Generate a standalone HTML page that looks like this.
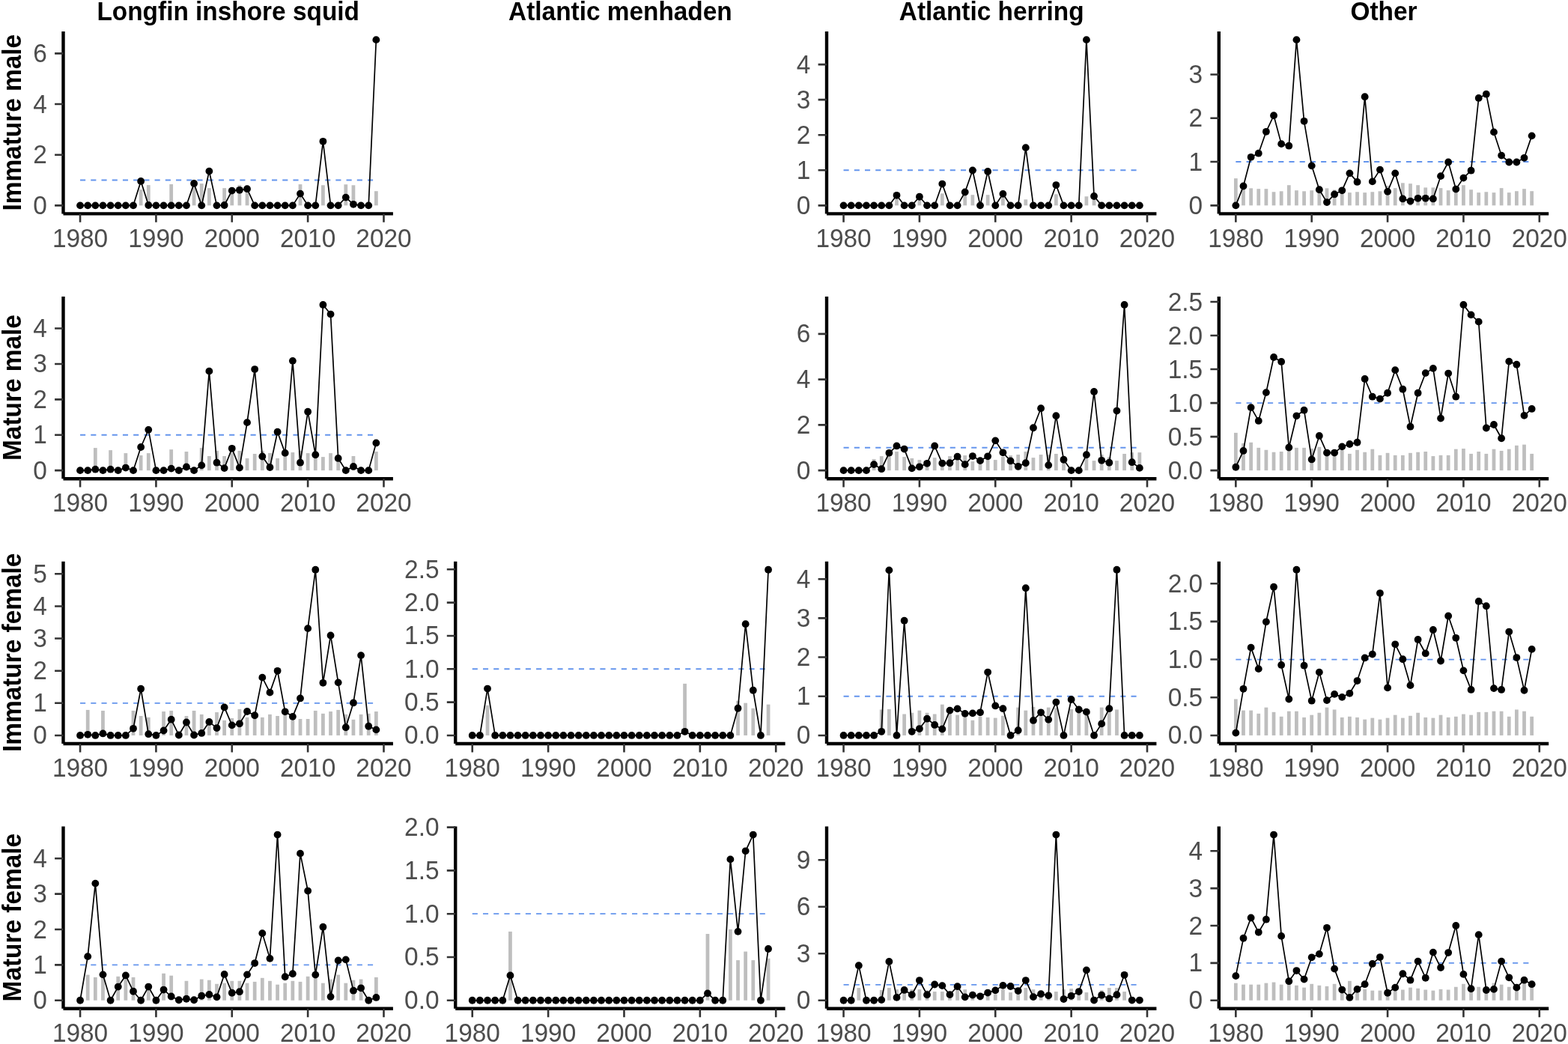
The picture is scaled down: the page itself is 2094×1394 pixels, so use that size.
<!DOCTYPE html>
<html><head><meta charset="utf-8"><title>Plot</title>
<style>
html,body{margin:0;padding:0;background:#fff;}
svg{display:block;}
text{font-family:"Liberation Sans",Arial,sans-serif;}
.tl{font-size:33.4px;fill:#4d4d4d;}
.st{font-size:33.4px;font-weight:bold;fill:#000;}
</style></head><body>
<svg width="2094" height="1394" viewBox="0 0 2094 1394">
<rect width="2094" height="1394" fill="#fff"/>
<text class="st" transform="translate(304.7 27.2) scale(1 1.03)" text-anchor="middle">Longfin inshore squid</text>
<text class="st" transform="translate(828.4 27.2) scale(1 1.03)" text-anchor="middle">Atlantic menhaden</text>
<text class="st" transform="translate(1324.2 27.2) scale(1 1.03)" text-anchor="middle">Atlantic herring</text>
<text class="st" transform="translate(1848 27.2) scale(1 1.03)" text-anchor="middle">Other</text>
<text class="st" transform="translate(27.6 163.75) rotate(-90) scale(1 1.03)" text-anchor="middle">Immature male</text>
<text class="st" transform="translate(27.6 517.55) rotate(-90) scale(1 1.03)" text-anchor="middle">Mature male</text>
<text class="st" transform="translate(27.6 871.35) rotate(-90) scale(1 1.03)" text-anchor="middle">Immature female</text>
<text class="st" transform="translate(27.6 1225.15) rotate(-90) scale(1 1.03)" text-anchor="middle">Mature female</text>
<g>
<g fill="#bebebe"><rect x="185.76" y="253.14" width="4.75" height="21.2"/><rect x="195.9" y="247.12" width="4.75" height="27.22"/><rect x="226.31" y="246.03" width="4.75" height="28.31"/><rect x="256.71" y="248.98" width="4.75" height="25.36"/><rect x="266.85" y="245.12" width="4.75" height="29.22"/><rect x="276.99" y="251.14" width="4.75" height="23.2"/><rect x="297.26" y="251.14" width="4.75" height="23.2"/><rect x="307.39" y="257.43" width="4.75" height="16.91"/><rect x="317.53" y="247.12" width="4.75" height="27.22"/><rect x="327.67" y="255.74" width="4.75" height="18.6"/><rect x="398.62" y="246.13" width="4.75" height="28.21"/><rect x="429.03" y="247.28" width="4.75" height="27.06"/><rect x="459.44" y="246.27" width="4.75" height="28.07"/><rect x="469.57" y="247.28" width="4.75" height="27.06"/><rect x="499.98" y="255.23" width="4.75" height="19.11"/></g>
<line x1="107.05" y1="240.52" x2="502.35" y2="240.52" stroke="#6495ed" stroke-width="1.85" stroke-dasharray="7.11 7.11"/>
<polyline points="107.05,274.34 117.19,274.34 127.32,274.34 137.46,274.34 147.59,274.34 157.73,274.34 167.87,274.34 178,274.34 188.14,241.94 198.27,274 208.41,274.34 218.55,274.34 228.68,274.34 238.82,274.34 248.95,274.34 259.09,244.92 269.23,274.34 279.36,228.62 289.5,274.34 299.63,274 309.77,254.62 319.91,253.81 330.04,252.22 340.18,274.34 350.31,274.34 360.45,274.34 370.59,274.34 380.72,274.34 390.86,274.34 400.99,258.61 411.13,274.34 421.27,274.34 431.4,188.78 441.54,274.34 451.67,274.34 461.81,263.62 471.95,272.82 482.08,274.34 492.22,274.34 502.35,53.16" fill="none" stroke="#000" stroke-width="1.7" stroke-linejoin="round"/>
<g fill="#000"><circle cx="107.05" cy="274.34" r="4.9"/><circle cx="117.19" cy="274.34" r="4.9"/><circle cx="127.32" cy="274.34" r="4.9"/><circle cx="137.46" cy="274.34" r="4.9"/><circle cx="147.59" cy="274.34" r="4.9"/><circle cx="157.73" cy="274.34" r="4.9"/><circle cx="167.87" cy="274.34" r="4.9"/><circle cx="178" cy="274.34" r="4.9"/><circle cx="188.14" cy="241.94" r="4.9"/><circle cx="198.27" cy="274" r="4.9"/><circle cx="208.41" cy="274.34" r="4.9"/><circle cx="218.55" cy="274.34" r="4.9"/><circle cx="228.68" cy="274.34" r="4.9"/><circle cx="238.82" cy="274.34" r="4.9"/><circle cx="248.95" cy="274.34" r="4.9"/><circle cx="259.09" cy="244.92" r="4.9"/><circle cx="269.23" cy="274.34" r="4.9"/><circle cx="279.36" cy="228.62" r="4.9"/><circle cx="289.5" cy="274.34" r="4.9"/><circle cx="299.63" cy="274" r="4.9"/><circle cx="309.77" cy="254.62" r="4.9"/><circle cx="319.91" cy="253.81" r="4.9"/><circle cx="330.04" cy="252.22" r="4.9"/><circle cx="340.18" cy="274.34" r="4.9"/><circle cx="350.31" cy="274.34" r="4.9"/><circle cx="360.45" cy="274.34" r="4.9"/><circle cx="370.59" cy="274.34" r="4.9"/><circle cx="380.72" cy="274.34" r="4.9"/><circle cx="390.86" cy="274.34" r="4.9"/><circle cx="400.99" cy="258.61" r="4.9"/><circle cx="411.13" cy="274.34" r="4.9"/><circle cx="421.27" cy="274.34" r="4.9"/><circle cx="431.4" cy="188.78" r="4.9"/><circle cx="441.54" cy="274.34" r="4.9"/><circle cx="451.67" cy="274.34" r="4.9"/><circle cx="461.81" cy="263.62" r="4.9"/><circle cx="471.95" cy="272.82" r="4.9"/><circle cx="482.08" cy="274.34" r="4.9"/><circle cx="492.22" cy="274.34" r="4.9"/><circle cx="502.35" cy="53.16" r="4.9"/></g>
<line x1="84.5" y1="42.1" x2="84.5" y2="285.4" stroke="#000" stroke-width="4.4"/>
<line x1="84.5" y1="285.4" x2="524.9" y2="285.4" stroke="#000" stroke-width="4.4"/>
<path d="M73.1 274.34H84.5M73.1 206.7H84.5M73.1 139.06H84.5M73.1 71.42H84.5M107.05 285.4V296.8M208.41 285.4V296.8M309.77 285.4V296.8M411.13 285.4V296.8M512.49 285.4V296.8" stroke="#333" stroke-width="2.6" fill="none"/>
<g class="tl"><text transform="translate(62.8 285.84) scale(1 1.03)" text-anchor="end">0</text><text transform="translate(62.8 218.2) scale(1 1.03)" text-anchor="end">2</text><text transform="translate(62.8 150.56) scale(1 1.03)" text-anchor="end">4</text><text transform="translate(62.8 82.92) scale(1 1.03)" text-anchor="end">6</text><text transform="translate(107.05 329.5) scale(1 1.03)" text-anchor="middle">1980</text><text transform="translate(208.41 329.5) scale(1 1.03)" text-anchor="middle">1990</text><text transform="translate(309.77 329.5) scale(1 1.03)" text-anchor="middle">2000</text><text transform="translate(411.13 329.5) scale(1 1.03)" text-anchor="middle">2010</text><text transform="translate(512.49 329.5) scale(1 1.03)" text-anchor="middle">2020</text></g>
</g>
<g>
<g fill="#bebebe"><rect x="1195.13" y="264.93" width="4.75" height="9.41"/><rect x="1225.53" y="267.28" width="4.75" height="7.06"/><rect x="1255.94" y="258.34" width="4.75" height="16"/><rect x="1286.35" y="250.81" width="4.75" height="23.53"/><rect x="1296.49" y="260.22" width="4.75" height="14.12"/><rect x="1316.76" y="260.22" width="4.75" height="14.12"/><rect x="1337.03" y="262.58" width="4.75" height="11.76"/><rect x="1367.44" y="266.34" width="4.75" height="8"/><rect x="1407.98" y="259.28" width="4.75" height="15.06"/><rect x="1448.53" y="262.29" width="4.75" height="12.05"/><rect x="1458.66" y="264.93" width="4.75" height="9.41"/></g>
<line x1="1126.55" y1="227.28" x2="1521.85" y2="227.28" stroke="#6495ed" stroke-width="1.85" stroke-dasharray="7.11 7.11"/>
<polyline points="1126.55,274.34 1136.69,274.34 1146.82,274.34 1156.96,274.34 1167.09,274.34 1177.23,274.34 1187.37,274.34 1197.5,260.79 1207.64,274.34 1217.77,274.34 1227.91,262.76 1238.05,274.34 1248.18,274.34 1258.32,245.54 1268.45,274.34 1278.59,274.34 1288.73,256.55 1298.86,227.52 1309,274.34 1319.13,229.02 1329.27,274.34 1339.41,258.86 1349.54,274.34 1359.68,274.34 1369.81,197.16 1379.95,274.34 1390.09,274.34 1400.22,274.34 1410.36,247.05 1420.49,274.34 1430.63,274.34 1440.77,274.34 1450.9,53.16 1461.04,262.01 1471.17,274.34 1481.31,274.34 1491.45,274.34 1501.58,274.34 1511.72,274.34 1521.85,274.34" fill="none" stroke="#000" stroke-width="1.7" stroke-linejoin="round"/>
<g fill="#000"><circle cx="1126.55" cy="274.34" r="4.9"/><circle cx="1136.69" cy="274.34" r="4.9"/><circle cx="1146.82" cy="274.34" r="4.9"/><circle cx="1156.96" cy="274.34" r="4.9"/><circle cx="1167.09" cy="274.34" r="4.9"/><circle cx="1177.23" cy="274.34" r="4.9"/><circle cx="1187.37" cy="274.34" r="4.9"/><circle cx="1197.5" cy="260.79" r="4.9"/><circle cx="1207.64" cy="274.34" r="4.9"/><circle cx="1217.77" cy="274.34" r="4.9"/><circle cx="1227.91" cy="262.76" r="4.9"/><circle cx="1238.05" cy="274.34" r="4.9"/><circle cx="1248.18" cy="274.34" r="4.9"/><circle cx="1258.32" cy="245.54" r="4.9"/><circle cx="1268.45" cy="274.34" r="4.9"/><circle cx="1278.59" cy="274.34" r="4.9"/><circle cx="1288.73" cy="256.55" r="4.9"/><circle cx="1298.86" cy="227.52" r="4.9"/><circle cx="1309" cy="274.34" r="4.9"/><circle cx="1319.13" cy="229.02" r="4.9"/><circle cx="1329.27" cy="274.34" r="4.9"/><circle cx="1339.41" cy="258.86" r="4.9"/><circle cx="1349.54" cy="274.34" r="4.9"/><circle cx="1359.68" cy="274.34" r="4.9"/><circle cx="1369.81" cy="197.16" r="4.9"/><circle cx="1379.95" cy="274.34" r="4.9"/><circle cx="1390.09" cy="274.34" r="4.9"/><circle cx="1400.22" cy="274.34" r="4.9"/><circle cx="1410.36" cy="247.05" r="4.9"/><circle cx="1420.49" cy="274.34" r="4.9"/><circle cx="1430.63" cy="274.34" r="4.9"/><circle cx="1440.77" cy="274.34" r="4.9"/><circle cx="1450.9" cy="53.16" r="4.9"/><circle cx="1461.04" cy="262.01" r="4.9"/><circle cx="1471.17" cy="274.34" r="4.9"/><circle cx="1481.31" cy="274.34" r="4.9"/><circle cx="1491.45" cy="274.34" r="4.9"/><circle cx="1501.58" cy="274.34" r="4.9"/><circle cx="1511.72" cy="274.34" r="4.9"/><circle cx="1521.85" cy="274.34" r="4.9"/></g>
<line x1="1104" y1="42.1" x2="1104" y2="285.4" stroke="#000" stroke-width="4.4"/>
<line x1="1104" y1="285.4" x2="1544.4" y2="285.4" stroke="#000" stroke-width="4.4"/>
<path d="M1092.6 274.34H1104M1092.6 227.28H1104M1092.6 180.22H1104M1092.6 133.16H1104M1092.6 86.1H1104M1126.55 285.4V296.8M1227.91 285.4V296.8M1329.27 285.4V296.8M1430.63 285.4V296.8M1531.99 285.4V296.8" stroke="#333" stroke-width="2.6" fill="none"/>
<g class="tl"><text transform="translate(1082.3 285.84) scale(1 1.03)" text-anchor="end">0</text><text transform="translate(1082.3 238.78) scale(1 1.03)" text-anchor="end">1</text><text transform="translate(1082.3 191.72) scale(1 1.03)" text-anchor="end">2</text><text transform="translate(1082.3 144.66) scale(1 1.03)" text-anchor="end">3</text><text transform="translate(1082.3 97.6) scale(1 1.03)" text-anchor="end">4</text><text transform="translate(1126.55 329.5) scale(1 1.03)" text-anchor="middle">1980</text><text transform="translate(1227.91 329.5) scale(1 1.03)" text-anchor="middle">1990</text><text transform="translate(1329.27 329.5) scale(1 1.03)" text-anchor="middle">2000</text><text transform="translate(1430.63 329.5) scale(1 1.03)" text-anchor="middle">2010</text><text transform="translate(1531.99 329.5) scale(1 1.03)" text-anchor="middle">2020</text></g>
</g>
<g>
<g fill="#bebebe"><rect x="1647.97" y="238.2" width="4.75" height="36.14"/><rect x="1658.11" y="249.86" width="4.75" height="24.48"/><rect x="1668.25" y="251.37" width="4.75" height="22.97"/><rect x="1678.38" y="252.19" width="4.75" height="22.15"/><rect x="1688.52" y="252.19" width="4.75" height="22.15"/><rect x="1698.65" y="256.27" width="4.75" height="18.07"/><rect x="1708.79" y="255.34" width="4.75" height="19"/><rect x="1718.93" y="247.23" width="4.75" height="27.11"/><rect x="1729.06" y="254.23" width="4.75" height="20.11"/><rect x="1739.2" y="255.34" width="4.75" height="19"/><rect x="1749.33" y="254.23" width="4.75" height="20.11"/><rect x="1759.47" y="253.35" width="4.75" height="20.99"/><rect x="1769.61" y="251.37" width="4.75" height="22.97"/><rect x="1779.74" y="253.47" width="4.75" height="20.87"/><rect x="1789.88" y="256.85" width="4.75" height="17.49"/><rect x="1800.01" y="257.14" width="4.75" height="17.2"/><rect x="1810.15" y="256.27" width="4.75" height="18.07"/><rect x="1820.29" y="257.14" width="4.75" height="17.2"/><rect x="1830.42" y="256.27" width="4.75" height="18.07"/><rect x="1840.56" y="255.34" width="4.75" height="19"/><rect x="1850.69" y="248.11" width="4.75" height="26.23"/><rect x="1860.83" y="251.14" width="4.75" height="23.2"/><rect x="1870.97" y="244.32" width="4.75" height="30.02"/><rect x="1881.1" y="245.19" width="4.75" height="29.15"/><rect x="1891.24" y="247.23" width="4.75" height="27.11"/><rect x="1901.38" y="250.44" width="4.75" height="23.9"/><rect x="1911.51" y="250.44" width="4.75" height="23.9"/><rect x="1921.65" y="251.14" width="4.75" height="23.2"/><rect x="1931.78" y="254.17" width="4.75" height="20.17"/><rect x="1941.92" y="255.1" width="4.75" height="19.24"/><rect x="1952.05" y="247.23" width="4.75" height="27.11"/><rect x="1962.19" y="253.24" width="4.75" height="21.1"/><rect x="1972.33" y="257.14" width="4.75" height="17.2"/><rect x="1982.46" y="256.27" width="4.75" height="18.07"/><rect x="1992.6" y="257.14" width="4.75" height="17.2"/><rect x="2002.73" y="251.14" width="4.75" height="23.2"/><rect x="2012.87" y="257.14" width="4.75" height="17.2"/><rect x="2023.01" y="255.22" width="4.75" height="19.12"/><rect x="2033.14" y="252.19" width="4.75" height="22.15"/><rect x="2043.28" y="255.22" width="4.75" height="19.12"/></g>
<line x1="1650.35" y1="216.04" x2="2045.65" y2="216.04" stroke="#6495ed" stroke-width="1.85" stroke-dasharray="7.11 7.11"/>
<polyline points="1650.35,274.34 1660.49,248.51 1670.62,209.8 1680.76,204.67 1690.89,175.82 1701.03,154.25 1711.17,192.14 1721.3,194.71 1731.44,53.16 1741.57,161.83 1751.71,221.35 1761.85,253.24 1771.98,270.08 1782.12,259.47 1792.25,254.29 1802.39,231.37 1812.53,242.92 1822.66,129.18 1832.8,242.39 1842.93,226.59 1853.07,255.86 1863.21,231.37 1873.34,265.42 1883.48,268.57 1893.61,264.78 1903.75,264.78 1913.89,265.42 1924.02,235.16 1934.16,216.51 1944.29,252.54 1954.43,237.61 1964.57,227.7 1974.7,130.93 1984.84,125.68 1994.97,176.4 2005.11,207.59 2015.25,216.51 2025.38,216.51 2035.52,210.8 2045.65,181.36" fill="none" stroke="#000" stroke-width="1.7" stroke-linejoin="round"/>
<g fill="#000"><circle cx="1650.35" cy="274.34" r="4.9"/><circle cx="1660.49" cy="248.51" r="4.9"/><circle cx="1670.62" cy="209.8" r="4.9"/><circle cx="1680.76" cy="204.67" r="4.9"/><circle cx="1690.89" cy="175.82" r="4.9"/><circle cx="1701.03" cy="154.25" r="4.9"/><circle cx="1711.17" cy="192.14" r="4.9"/><circle cx="1721.3" cy="194.71" r="4.9"/><circle cx="1731.44" cy="53.16" r="4.9"/><circle cx="1741.57" cy="161.83" r="4.9"/><circle cx="1751.71" cy="221.35" r="4.9"/><circle cx="1761.85" cy="253.24" r="4.9"/><circle cx="1771.98" cy="270.08" r="4.9"/><circle cx="1782.12" cy="259.47" r="4.9"/><circle cx="1792.25" cy="254.29" r="4.9"/><circle cx="1802.39" cy="231.37" r="4.9"/><circle cx="1812.53" cy="242.92" r="4.9"/><circle cx="1822.66" cy="129.18" r="4.9"/><circle cx="1832.8" cy="242.39" r="4.9"/><circle cx="1842.93" cy="226.59" r="4.9"/><circle cx="1853.07" cy="255.86" r="4.9"/><circle cx="1863.21" cy="231.37" r="4.9"/><circle cx="1873.34" cy="265.42" r="4.9"/><circle cx="1883.48" cy="268.57" r="4.9"/><circle cx="1893.61" cy="264.78" r="4.9"/><circle cx="1903.75" cy="264.78" r="4.9"/><circle cx="1913.89" cy="265.42" r="4.9"/><circle cx="1924.02" cy="235.16" r="4.9"/><circle cx="1934.16" cy="216.51" r="4.9"/><circle cx="1944.29" cy="252.54" r="4.9"/><circle cx="1954.43" cy="237.61" r="4.9"/><circle cx="1964.57" cy="227.7" r="4.9"/><circle cx="1974.7" cy="130.93" r="4.9"/><circle cx="1984.84" cy="125.68" r="4.9"/><circle cx="1994.97" cy="176.4" r="4.9"/><circle cx="2005.11" cy="207.59" r="4.9"/><circle cx="2015.25" cy="216.51" r="4.9"/><circle cx="2025.38" cy="216.51" r="4.9"/><circle cx="2035.52" cy="210.8" r="4.9"/><circle cx="2045.65" cy="181.36" r="4.9"/></g>
<line x1="1627.8" y1="42.1" x2="1627.8" y2="285.4" stroke="#000" stroke-width="4.4"/>
<line x1="1627.8" y1="285.4" x2="2068.2" y2="285.4" stroke="#000" stroke-width="4.4"/>
<path d="M1616.4 274.34H1627.8M1616.4 216.04H1627.8M1616.4 157.75H1627.8M1616.4 99.45H1627.8M1650.35 285.4V296.8M1751.71 285.4V296.8M1853.07 285.4V296.8M1954.43 285.4V296.8M2055.79 285.4V296.8" stroke="#333" stroke-width="2.6" fill="none"/>
<g class="tl"><text transform="translate(1606.1 285.84) scale(1 1.03)" text-anchor="end">0</text><text transform="translate(1606.1 227.54) scale(1 1.03)" text-anchor="end">1</text><text transform="translate(1606.1 169.25) scale(1 1.03)" text-anchor="end">2</text><text transform="translate(1606.1 110.95) scale(1 1.03)" text-anchor="end">3</text><text transform="translate(1650.35 329.5) scale(1 1.03)" text-anchor="middle">1980</text><text transform="translate(1751.71 329.5) scale(1 1.03)" text-anchor="middle">1990</text><text transform="translate(1853.07 329.5) scale(1 1.03)" text-anchor="middle">2000</text><text transform="translate(1954.43 329.5) scale(1 1.03)" text-anchor="middle">2010</text><text transform="translate(2055.79 329.5) scale(1 1.03)" text-anchor="middle">2020</text></g>
</g>
<g>
<g fill="#bebebe"><rect x="124.95" y="598.09" width="4.75" height="30.05"/><rect x="145.22" y="601.12" width="4.75" height="27.02"/><rect x="165.49" y="605.1" width="4.75" height="23.04"/><rect x="185.76" y="608.04" width="4.75" height="20.1"/><rect x="195.9" y="605.1" width="4.75" height="23.04"/><rect x="226.31" y="600.17" width="4.75" height="27.97"/><rect x="246.58" y="603.02" width="4.75" height="25.12"/><rect x="266.85" y="598.09" width="4.75" height="30.05"/><rect x="276.99" y="608.99" width="4.75" height="19.15"/><rect x="287.12" y="601.97" width="4.75" height="26.17"/><rect x="297.26" y="608.99" width="4.75" height="19.15"/><rect x="307.39" y="604.58" width="4.75" height="23.56"/><rect x="317.53" y="601.97" width="4.75" height="26.17"/><rect x="327.67" y="611.93" width="4.75" height="16.21"/><rect x="337.8" y="605.96" width="4.75" height="22.18"/><rect x="347.94" y="601.97" width="4.75" height="26.17"/><rect x="358.07" y="604.91" width="4.75" height="23.23"/><rect x="368.21" y="611.93" width="4.75" height="16.21"/><rect x="378.35" y="606.81" width="4.75" height="21.33"/><rect x="388.48" y="604.06" width="4.75" height="24.08"/><rect x="398.62" y="602.07" width="4.75" height="26.07"/><rect x="408.75" y="605.1" width="4.75" height="23.04"/><rect x="418.89" y="606.81" width="4.75" height="21.33"/><rect x="429.03" y="610.13" width="4.75" height="18.01"/><rect x="439.16" y="605.1" width="4.75" height="23.04"/><rect x="449.3" y="609.18" width="4.75" height="18.96"/><rect x="469.57" y="608.99" width="4.75" height="19.15"/><rect x="499.98" y="603.02" width="4.75" height="25.12"/></g>
<line x1="107.05" y1="580.74" x2="502.35" y2="580.74" stroke="#6495ed" stroke-width="1.85" stroke-dasharray="7.11 7.11"/>
<polyline points="107.05,628.14 117.19,628.14 127.32,626.67 137.46,628.14 147.59,626.67 157.73,628.14 167.87,624.58 178,628.14 188.14,597 198.27,573.86 208.41,628.14 218.55,628.14 228.68,625.63 238.82,628.14 248.95,623.49 259.09,628.14 269.23,621.41 279.36,495.65 289.5,617.71 299.63,625.11 309.77,598.8 319.91,624.58 330.04,564.15 340.18,493.04 350.31,609.51 360.45,624.02 370.59,576.71 380.72,604.91 390.86,481.86 400.99,617.71 411.13,549.69 421.27,607.24 431.4,406.96 441.54,419.57 451.67,611.93 461.81,628.14 471.95,622.97 482.08,628.14 492.22,628.14 502.35,591.45" fill="none" stroke="#000" stroke-width="1.7" stroke-linejoin="round"/>
<g fill="#000"><circle cx="107.05" cy="628.14" r="4.9"/><circle cx="117.19" cy="628.14" r="4.9"/><circle cx="127.32" cy="626.67" r="4.9"/><circle cx="137.46" cy="628.14" r="4.9"/><circle cx="147.59" cy="626.67" r="4.9"/><circle cx="157.73" cy="628.14" r="4.9"/><circle cx="167.87" cy="624.58" r="4.9"/><circle cx="178" cy="628.14" r="4.9"/><circle cx="188.14" cy="597" r="4.9"/><circle cx="198.27" cy="573.86" r="4.9"/><circle cx="208.41" cy="628.14" r="4.9"/><circle cx="218.55" cy="628.14" r="4.9"/><circle cx="228.68" cy="625.63" r="4.9"/><circle cx="238.82" cy="628.14" r="4.9"/><circle cx="248.95" cy="623.49" r="4.9"/><circle cx="259.09" cy="628.14" r="4.9"/><circle cx="269.23" cy="621.41" r="4.9"/><circle cx="279.36" cy="495.65" r="4.9"/><circle cx="289.5" cy="617.71" r="4.9"/><circle cx="299.63" cy="625.11" r="4.9"/><circle cx="309.77" cy="598.8" r="4.9"/><circle cx="319.91" cy="624.58" r="4.9"/><circle cx="330.04" cy="564.15" r="4.9"/><circle cx="340.18" cy="493.04" r="4.9"/><circle cx="350.31" cy="609.51" r="4.9"/><circle cx="360.45" cy="624.02" r="4.9"/><circle cx="370.59" cy="576.71" r="4.9"/><circle cx="380.72" cy="604.91" r="4.9"/><circle cx="390.86" cy="481.86" r="4.9"/><circle cx="400.99" cy="617.71" r="4.9"/><circle cx="411.13" cy="549.69" r="4.9"/><circle cx="421.27" cy="607.24" r="4.9"/><circle cx="431.4" cy="406.96" r="4.9"/><circle cx="441.54" cy="419.57" r="4.9"/><circle cx="451.67" cy="611.93" r="4.9"/><circle cx="461.81" cy="628.14" r="4.9"/><circle cx="471.95" cy="622.97" r="4.9"/><circle cx="482.08" cy="628.14" r="4.9"/><circle cx="492.22" cy="628.14" r="4.9"/><circle cx="502.35" cy="591.45" r="4.9"/></g>
<line x1="84.5" y1="395.9" x2="84.5" y2="639.2" stroke="#000" stroke-width="4.4"/>
<line x1="84.5" y1="639.2" x2="524.9" y2="639.2" stroke="#000" stroke-width="4.4"/>
<path d="M73.1 628.14H84.5M73.1 580.74H84.5M73.1 533.34H84.5M73.1 485.93H84.5M73.1 438.53H84.5M107.05 639.2V650.6M208.41 639.2V650.6M309.77 639.2V650.6M411.13 639.2V650.6M512.49 639.2V650.6" stroke="#333" stroke-width="2.6" fill="none"/>
<g class="tl"><text transform="translate(62.8 639.64) scale(1 1.03)" text-anchor="end">0</text><text transform="translate(62.8 592.24) scale(1 1.03)" text-anchor="end">1</text><text transform="translate(62.8 544.84) scale(1 1.03)" text-anchor="end">2</text><text transform="translate(62.8 497.43) scale(1 1.03)" text-anchor="end">3</text><text transform="translate(62.8 450.03) scale(1 1.03)" text-anchor="end">4</text><text transform="translate(107.05 683.3) scale(1 1.03)" text-anchor="middle">1980</text><text transform="translate(208.41 683.3) scale(1 1.03)" text-anchor="middle">1990</text><text transform="translate(309.77 683.3) scale(1 1.03)" text-anchor="middle">2000</text><text transform="translate(411.13 683.3) scale(1 1.03)" text-anchor="middle">2010</text><text transform="translate(512.49 683.3) scale(1 1.03)" text-anchor="middle">2020</text></g>
</g>
<g>
<g fill="#bebebe"><rect x="1164.72" y="613.01" width="4.75" height="15.13"/><rect x="1174.86" y="609.12" width="4.75" height="19.02"/><rect x="1184.99" y="609.91" width="4.75" height="18.23"/><rect x="1195.13" y="603.04" width="4.75" height="25.1"/><rect x="1205.26" y="610.06" width="4.75" height="18.08"/><rect x="1215.4" y="611.95" width="4.75" height="16.19"/><rect x="1225.53" y="614.07" width="4.75" height="14.07"/><rect x="1235.67" y="615.99" width="4.75" height="12.15"/><rect x="1245.81" y="611.13" width="4.75" height="17.01"/><rect x="1255.94" y="615.99" width="4.75" height="12.15"/><rect x="1266.08" y="609.12" width="4.75" height="19.02"/><rect x="1276.21" y="612.95" width="4.75" height="15.19"/><rect x="1286.35" y="608.09" width="4.75" height="20.05"/><rect x="1296.49" y="616.17" width="4.75" height="11.97"/><rect x="1306.62" y="615.99" width="4.75" height="12.15"/><rect x="1316.76" y="612.95" width="4.75" height="15.19"/><rect x="1326.89" y="614.07" width="4.75" height="14.07"/><rect x="1337.03" y="609.91" width="4.75" height="18.23"/><rect x="1347.17" y="608.09" width="4.75" height="20.05"/><rect x="1357.3" y="607.05" width="4.75" height="21.09"/><rect x="1367.44" y="603.04" width="4.75" height="25.1"/><rect x="1377.57" y="611.13" width="4.75" height="17.01"/><rect x="1387.71" y="607.05" width="4.75" height="21.09"/><rect x="1397.85" y="607.18" width="4.75" height="20.96"/><rect x="1407.98" y="605.96" width="4.75" height="22.18"/><rect x="1418.12" y="612.95" width="4.75" height="15.19"/><rect x="1448.53" y="611.43" width="4.75" height="16.71"/><rect x="1458.66" y="615.14" width="4.75" height="13"/><rect x="1468.8" y="607.05" width="4.75" height="21.09"/><rect x="1478.93" y="610.4" width="4.75" height="17.74"/><rect x="1489.07" y="615.14" width="4.75" height="13"/><rect x="1499.21" y="605.96" width="4.75" height="22.18"/><rect x="1509.34" y="604.14" width="4.75" height="24"/><rect x="1519.48" y="604.14" width="4.75" height="24"/></g>
<line x1="1126.55" y1="597.76" x2="1521.85" y2="597.76" stroke="#6495ed" stroke-width="1.85" stroke-dasharray="7.11 7.11"/>
<polyline points="1126.55,628.14 1136.69,628.14 1146.82,628.14 1156.96,628.14 1167.09,620.15 1177.23,626.17 1187.37,604.81 1197.5,595.45 1207.64,599.58 1217.77,625.41 1227.91,623.31 1238.05,618.81 1248.18,595.45 1258.32,618.57 1268.45,618.27 1278.59,609.67 1288.73,620.15 1298.86,609.03 1309,615.14 1319.13,609.33 1329.27,588.34 1339.41,604.32 1349.54,615.47 1359.68,622.82 1369.81,618.27 1379.95,571.23 1390.09,545.23 1400.22,621.12 1410.36,555.22 1420.49,613.77 1430.63,628.14 1440.77,628.14 1450.9,607.24 1461.04,523.02 1471.17,614.8 1481.31,617.75 1491.45,548.57 1501.58,406.96 1511.72,617.2 1521.85,624.89" fill="none" stroke="#000" stroke-width="1.7" stroke-linejoin="round"/>
<g fill="#000"><circle cx="1126.55" cy="628.14" r="4.9"/><circle cx="1136.69" cy="628.14" r="4.9"/><circle cx="1146.82" cy="628.14" r="4.9"/><circle cx="1156.96" cy="628.14" r="4.9"/><circle cx="1167.09" cy="620.15" r="4.9"/><circle cx="1177.23" cy="626.17" r="4.9"/><circle cx="1187.37" cy="604.81" r="4.9"/><circle cx="1197.5" cy="595.45" r="4.9"/><circle cx="1207.64" cy="599.58" r="4.9"/><circle cx="1217.77" cy="625.41" r="4.9"/><circle cx="1227.91" cy="623.31" r="4.9"/><circle cx="1238.05" cy="618.81" r="4.9"/><circle cx="1248.18" cy="595.45" r="4.9"/><circle cx="1258.32" cy="618.57" r="4.9"/><circle cx="1268.45" cy="618.27" r="4.9"/><circle cx="1278.59" cy="609.67" r="4.9"/><circle cx="1288.73" cy="620.15" r="4.9"/><circle cx="1298.86" cy="609.03" r="4.9"/><circle cx="1309" cy="615.14" r="4.9"/><circle cx="1319.13" cy="609.33" r="4.9"/><circle cx="1329.27" cy="588.34" r="4.9"/><circle cx="1339.41" cy="604.32" r="4.9"/><circle cx="1349.54" cy="615.47" r="4.9"/><circle cx="1359.68" cy="622.82" r="4.9"/><circle cx="1369.81" cy="618.27" r="4.9"/><circle cx="1379.95" cy="571.23" r="4.9"/><circle cx="1390.09" cy="545.23" r="4.9"/><circle cx="1400.22" cy="621.12" r="4.9"/><circle cx="1410.36" cy="555.22" r="4.9"/><circle cx="1420.49" cy="613.77" r="4.9"/><circle cx="1430.63" cy="628.14" r="4.9"/><circle cx="1440.77" cy="628.14" r="4.9"/><circle cx="1450.9" cy="607.24" r="4.9"/><circle cx="1461.04" cy="523.02" r="4.9"/><circle cx="1471.17" cy="614.8" r="4.9"/><circle cx="1481.31" cy="617.75" r="4.9"/><circle cx="1491.45" cy="548.57" r="4.9"/><circle cx="1501.58" cy="406.96" r="4.9"/><circle cx="1511.72" cy="617.2" r="4.9"/><circle cx="1521.85" cy="624.89" r="4.9"/></g>
<line x1="1104" y1="395.9" x2="1104" y2="639.2" stroke="#000" stroke-width="4.4"/>
<line x1="1104" y1="639.2" x2="1544.4" y2="639.2" stroke="#000" stroke-width="4.4"/>
<path d="M1092.6 628.14H1104M1092.6 567.38H1104M1092.6 506.61H1104M1092.6 445.85H1104M1126.55 639.2V650.6M1227.91 639.2V650.6M1329.27 639.2V650.6M1430.63 639.2V650.6M1531.99 639.2V650.6" stroke="#333" stroke-width="2.6" fill="none"/>
<g class="tl"><text transform="translate(1082.3 639.64) scale(1 1.03)" text-anchor="end">0</text><text transform="translate(1082.3 578.88) scale(1 1.03)" text-anchor="end">2</text><text transform="translate(1082.3 518.11) scale(1 1.03)" text-anchor="end">4</text><text transform="translate(1082.3 457.35) scale(1 1.03)" text-anchor="end">6</text><text transform="translate(1126.55 683.3) scale(1 1.03)" text-anchor="middle">1980</text><text transform="translate(1227.91 683.3) scale(1 1.03)" text-anchor="middle">1990</text><text transform="translate(1329.27 683.3) scale(1 1.03)" text-anchor="middle">2000</text><text transform="translate(1430.63 683.3) scale(1 1.03)" text-anchor="middle">2010</text><text transform="translate(1531.99 683.3) scale(1 1.03)" text-anchor="middle">2020</text></g>
</g>
<g>
<g fill="#bebebe"><rect x="1647.97" y="577.89" width="4.75" height="50.25"/><rect x="1658.11" y="591.94" width="4.75" height="36.2"/><rect x="1668.25" y="590.77" width="4.75" height="37.37"/><rect x="1678.38" y="597.88" width="4.75" height="30.26"/><rect x="1688.52" y="600.76" width="4.75" height="27.38"/><rect x="1698.65" y="603.73" width="4.75" height="24.41"/><rect x="1708.79" y="603.01" width="4.75" height="25.13"/><rect x="1718.93" y="601.12" width="4.75" height="27.02"/><rect x="1729.06" y="597.88" width="4.75" height="30.26"/><rect x="1739.2" y="597.88" width="4.75" height="30.26"/><rect x="1749.33" y="599.05" width="4.75" height="29.09"/><rect x="1759.47" y="596.8" width="4.75" height="31.34"/><rect x="1769.61" y="601.12" width="4.75" height="27.02"/><rect x="1779.74" y="602.92" width="4.75" height="25.22"/><rect x="1789.88" y="601.12" width="4.75" height="27.02"/><rect x="1800.01" y="605.9" width="4.75" height="22.24"/><rect x="1810.15" y="600.76" width="4.75" height="27.38"/><rect x="1820.29" y="603.73" width="4.75" height="24.41"/><rect x="1830.42" y="599.68" width="4.75" height="28.46"/><rect x="1840.56" y="607.88" width="4.75" height="20.26"/><rect x="1850.69" y="604.82" width="4.75" height="23.32"/><rect x="1860.83" y="607.88" width="4.75" height="20.26"/><rect x="1870.97" y="607.88" width="4.75" height="20.26"/><rect x="1881.1" y="604.82" width="4.75" height="23.32"/><rect x="1891.24" y="603.73" width="4.75" height="24.41"/><rect x="1901.38" y="603.01" width="4.75" height="25.13"/><rect x="1911.51" y="609.05" width="4.75" height="19.09"/><rect x="1921.65" y="607.88" width="4.75" height="20.26"/><rect x="1931.78" y="607.88" width="4.75" height="20.26"/><rect x="1941.92" y="599.68" width="4.75" height="28.46"/><rect x="1952.05" y="599.05" width="4.75" height="29.09"/><rect x="1962.19" y="605.9" width="4.75" height="22.24"/><rect x="1972.33" y="603.01" width="4.75" height="25.13"/><rect x="1982.46" y="605.9" width="4.75" height="22.24"/><rect x="1992.6" y="599.68" width="4.75" height="28.46"/><rect x="2002.73" y="601.93" width="4.75" height="26.21"/><rect x="2012.87" y="599.68" width="4.75" height="28.46"/><rect x="2023.01" y="594.82" width="4.75" height="33.32"/><rect x="2033.14" y="593.65" width="4.75" height="34.49"/><rect x="2043.28" y="605.9" width="4.75" height="22.24"/></g>
<line x1="1650.35" y1="538.08" x2="2045.65" y2="538.08" stroke="#6495ed" stroke-width="1.85" stroke-dasharray="7.11 7.11"/>
<polyline points="1650.35,623.73 1660.49,601.93 1670.62,544.12 1680.76,561.95 1690.89,524.12 1701.03,477.02 1711.17,482.97 1721.3,597.52 1731.44,555.28 1741.57,547.72 1751.71,613.46 1761.85,581.94 1771.98,604.55 1782.12,604.55 1792.25,596.35 1802.39,593.02 1812.53,590.77 1822.66,505.93 1832.8,529.71 1842.93,532.59 1853.07,524.75 1863.21,494.14 1873.34,519.71 1883.48,569.69 1893.61,524.75 1903.75,498.1 1913.89,491.88 1924.02,558.62 1934.16,498.55 1944.29,529.71 1954.43,406.96 1964.57,420.38 1974.7,429.65 1984.84,571.49 1994.97,566.99 2005.11,585.27 2015.25,482.61 2025.38,486.75 2035.52,554.83 2045.65,545.92" fill="none" stroke="#000" stroke-width="1.7" stroke-linejoin="round"/>
<g fill="#000"><circle cx="1650.35" cy="623.73" r="4.9"/><circle cx="1660.49" cy="601.93" r="4.9"/><circle cx="1670.62" cy="544.12" r="4.9"/><circle cx="1680.76" cy="561.95" r="4.9"/><circle cx="1690.89" cy="524.12" r="4.9"/><circle cx="1701.03" cy="477.02" r="4.9"/><circle cx="1711.17" cy="482.97" r="4.9"/><circle cx="1721.3" cy="597.52" r="4.9"/><circle cx="1731.44" cy="555.28" r="4.9"/><circle cx="1741.57" cy="547.72" r="4.9"/><circle cx="1751.71" cy="613.46" r="4.9"/><circle cx="1761.85" cy="581.94" r="4.9"/><circle cx="1771.98" cy="604.55" r="4.9"/><circle cx="1782.12" cy="604.55" r="4.9"/><circle cx="1792.25" cy="596.35" r="4.9"/><circle cx="1802.39" cy="593.02" r="4.9"/><circle cx="1812.53" cy="590.77" r="4.9"/><circle cx="1822.66" cy="505.93" r="4.9"/><circle cx="1832.8" cy="529.71" r="4.9"/><circle cx="1842.93" cy="532.59" r="4.9"/><circle cx="1853.07" cy="524.75" r="4.9"/><circle cx="1863.21" cy="494.14" r="4.9"/><circle cx="1873.34" cy="519.71" r="4.9"/><circle cx="1883.48" cy="569.69" r="4.9"/><circle cx="1893.61" cy="524.75" r="4.9"/><circle cx="1903.75" cy="498.1" r="4.9"/><circle cx="1913.89" cy="491.88" r="4.9"/><circle cx="1924.02" cy="558.62" r="4.9"/><circle cx="1934.16" cy="498.55" r="4.9"/><circle cx="1944.29" cy="529.71" r="4.9"/><circle cx="1954.43" cy="406.96" r="4.9"/><circle cx="1964.57" cy="420.38" r="4.9"/><circle cx="1974.7" cy="429.65" r="4.9"/><circle cx="1984.84" cy="571.49" r="4.9"/><circle cx="1994.97" cy="566.99" r="4.9"/><circle cx="2005.11" cy="585.27" r="4.9"/><circle cx="2015.25" cy="482.61" r="4.9"/><circle cx="2025.38" cy="486.75" r="4.9"/><circle cx="2035.52" cy="554.83" r="4.9"/><circle cx="2045.65" cy="545.92" r="4.9"/></g>
<line x1="1627.8" y1="395.9" x2="1627.8" y2="639.2" stroke="#000" stroke-width="4.4"/>
<line x1="1627.8" y1="639.2" x2="2068.2" y2="639.2" stroke="#000" stroke-width="4.4"/>
<path d="M1616.4 628.14H1627.8M1616.4 583.11H1627.8M1616.4 538.08H1627.8M1616.4 493.05H1627.8M1616.4 448.03H1627.8M1616.4 403H1627.8M1650.35 639.2V650.6M1751.71 639.2V650.6M1853.07 639.2V650.6M1954.43 639.2V650.6M2055.79 639.2V650.6" stroke="#333" stroke-width="2.6" fill="none"/>
<g class="tl"><text transform="translate(1606.1 639.64) scale(1 1.03)" text-anchor="end">0.0</text><text transform="translate(1606.1 594.61) scale(1 1.03)" text-anchor="end">0.5</text><text transform="translate(1606.1 549.58) scale(1 1.03)" text-anchor="end">1.0</text><text transform="translate(1606.1 504.55) scale(1 1.03)" text-anchor="end">1.5</text><text transform="translate(1606.1 459.53) scale(1 1.03)" text-anchor="end">2.0</text><text transform="translate(1606.1 414.5) scale(1 1.03)" text-anchor="end">2.5</text><text transform="translate(1650.35 683.3) scale(1 1.03)" text-anchor="middle">1980</text><text transform="translate(1751.71 683.3) scale(1 1.03)" text-anchor="middle">1990</text><text transform="translate(1853.07 683.3) scale(1 1.03)" text-anchor="middle">2000</text><text transform="translate(1954.43 683.3) scale(1 1.03)" text-anchor="middle">2010</text><text transform="translate(2055.79 683.3) scale(1 1.03)" text-anchor="middle">2020</text></g>
</g>
<g>
<g fill="#bebebe"><rect x="114.81" y="947.92" width="4.75" height="34.02"/><rect x="135.08" y="948.95" width="4.75" height="32.99"/><rect x="175.63" y="948.95" width="4.75" height="32.99"/><rect x="185.76" y="955.98" width="4.75" height="25.96"/><rect x="195.9" y="957.88" width="4.75" height="24.06"/><rect x="216.17" y="950.03" width="4.75" height="31.91"/><rect x="226.31" y="948.95" width="4.75" height="32.99"/><rect x="246.58" y="955.98" width="4.75" height="25.96"/><rect x="256.71" y="948.95" width="4.75" height="32.99"/><rect x="266.85" y="953.91" width="4.75" height="28.03"/><rect x="276.99" y="966.42" width="4.75" height="15.52"/><rect x="287.12" y="951.06" width="4.75" height="30.88"/><rect x="297.26" y="961.89" width="4.75" height="20.05"/><rect x="307.39" y="958.96" width="4.75" height="22.98"/><rect x="317.53" y="946.84" width="4.75" height="35.1"/><rect x="327.67" y="957.88" width="4.75" height="24.06"/><rect x="337.8" y="958.22" width="4.75" height="23.72"/><rect x="347.94" y="957.88" width="4.75" height="24.06"/><rect x="358.07" y="953.91" width="4.75" height="28.03"/><rect x="368.21" y="955.98" width="4.75" height="25.96"/><rect x="378.35" y="954.77" width="4.75" height="27.17"/><rect x="388.48" y="960.38" width="4.75" height="21.56"/><rect x="398.62" y="959.99" width="4.75" height="21.95"/><rect x="408.75" y="959.99" width="4.75" height="21.95"/><rect x="418.89" y="948.95" width="4.75" height="32.99"/><rect x="429.03" y="952.83" width="4.75" height="29.11"/><rect x="439.16" y="950.03" width="4.75" height="31.91"/><rect x="449.3" y="947.92" width="4.75" height="34.02"/><rect x="459.44" y="953.91" width="4.75" height="28.03"/><rect x="469.57" y="960.81" width="4.75" height="21.13"/><rect x="479.71" y="953.91" width="4.75" height="28.03"/><rect x="489.84" y="952.83" width="4.75" height="29.11"/><rect x="499.98" y="950.03" width="4.75" height="31.91"/></g>
<line x1="107.05" y1="938.82" x2="502.35" y2="938.82" stroke="#6495ed" stroke-width="1.85" stroke-dasharray="7.11 7.11"/>
<polyline points="107.05,981.94 117.19,980.82 127.32,981.94 137.46,979.44 147.59,981.94 157.73,981.94 167.87,981.94 178,972.8 188.14,919.76 198.27,980.17 208.41,981.94 218.55,975.51 228.68,960.72 238.82,981.51 248.95,964.52 259.09,981.51 269.23,978.92 279.36,963.96 289.5,972.06 299.63,944.42 309.77,968.4 319.91,966.29 330.04,949.99 340.18,955.25 350.31,904.66 360.45,924.63 370.59,895.78 380.72,950.33 390.86,956.84 400.99,932.43 411.13,839.16 421.27,760.76 431.4,911.78 441.54,848.47 451.67,911.35 461.81,971.25 471.95,938.47 482.08,875.12 492.22,969.74 502.35,974.39" fill="none" stroke="#000" stroke-width="1.7" stroke-linejoin="round"/>
<g fill="#000"><circle cx="107.05" cy="981.94" r="4.9"/><circle cx="117.19" cy="980.82" r="4.9"/><circle cx="127.32" cy="981.94" r="4.9"/><circle cx="137.46" cy="979.44" r="4.9"/><circle cx="147.59" cy="981.94" r="4.9"/><circle cx="157.73" cy="981.94" r="4.9"/><circle cx="167.87" cy="981.94" r="4.9"/><circle cx="178" cy="972.8" r="4.9"/><circle cx="188.14" cy="919.76" r="4.9"/><circle cx="198.27" cy="980.17" r="4.9"/><circle cx="208.41" cy="981.94" r="4.9"/><circle cx="218.55" cy="975.51" r="4.9"/><circle cx="228.68" cy="960.72" r="4.9"/><circle cx="238.82" cy="981.51" r="4.9"/><circle cx="248.95" cy="964.52" r="4.9"/><circle cx="259.09" cy="981.51" r="4.9"/><circle cx="269.23" cy="978.92" r="4.9"/><circle cx="279.36" cy="963.96" r="4.9"/><circle cx="289.5" cy="972.06" r="4.9"/><circle cx="299.63" cy="944.42" r="4.9"/><circle cx="309.77" cy="968.4" r="4.9"/><circle cx="319.91" cy="966.29" r="4.9"/><circle cx="330.04" cy="949.99" r="4.9"/><circle cx="340.18" cy="955.25" r="4.9"/><circle cx="350.31" cy="904.66" r="4.9"/><circle cx="360.45" cy="924.63" r="4.9"/><circle cx="370.59" cy="895.78" r="4.9"/><circle cx="380.72" cy="950.33" r="4.9"/><circle cx="390.86" cy="956.84" r="4.9"/><circle cx="400.99" cy="932.43" r="4.9"/><circle cx="411.13" cy="839.16" r="4.9"/><circle cx="421.27" cy="760.76" r="4.9"/><circle cx="431.4" cy="911.78" r="4.9"/><circle cx="441.54" cy="848.47" r="4.9"/><circle cx="451.67" cy="911.35" r="4.9"/><circle cx="461.81" cy="971.25" r="4.9"/><circle cx="471.95" cy="938.47" r="4.9"/><circle cx="482.08" cy="875.12" r="4.9"/><circle cx="492.22" cy="969.74" r="4.9"/><circle cx="502.35" cy="974.39" r="4.9"/></g>
<line x1="84.5" y1="749.7" x2="84.5" y2="993" stroke="#000" stroke-width="4.4"/>
<line x1="84.5" y1="993" x2="524.9" y2="993" stroke="#000" stroke-width="4.4"/>
<path d="M73.1 981.94H84.5M73.1 938.82H84.5M73.1 895.69H84.5M73.1 852.57H84.5M73.1 809.45H84.5M73.1 766.32H84.5M107.05 993V1004.4M208.41 993V1004.4M309.77 993V1004.4M411.13 993V1004.4M512.49 993V1004.4" stroke="#333" stroke-width="2.6" fill="none"/>
<g class="tl"><text transform="translate(62.8 993.44) scale(1 1.03)" text-anchor="end">0</text><text transform="translate(62.8 950.32) scale(1 1.03)" text-anchor="end">1</text><text transform="translate(62.8 907.19) scale(1 1.03)" text-anchor="end">2</text><text transform="translate(62.8 864.07) scale(1 1.03)" text-anchor="end">3</text><text transform="translate(62.8 820.95) scale(1 1.03)" text-anchor="end">4</text><text transform="translate(62.8 777.82) scale(1 1.03)" text-anchor="end">5</text><text transform="translate(107.05 1037.1) scale(1 1.03)" text-anchor="middle">1980</text><text transform="translate(208.41 1037.1) scale(1 1.03)" text-anchor="middle">1990</text><text transform="translate(309.77 1037.1) scale(1 1.03)" text-anchor="middle">2000</text><text transform="translate(411.13 1037.1) scale(1 1.03)" text-anchor="middle">2010</text><text transform="translate(512.49 1037.1) scale(1 1.03)" text-anchor="middle">2020</text></g>
</g>
<g>
<g fill="#bebebe"><rect x="648.65" y="941.78" width="4.75" height="40.16"/><rect x="912.18" y="912.88" width="4.75" height="69.06"/><rect x="983.13" y="935.75" width="4.75" height="46.19"/><rect x="993.27" y="938.68" width="4.75" height="43.26"/><rect x="1003.41" y="945.77" width="4.75" height="36.17"/><rect x="1023.68" y="940.63" width="4.75" height="41.31"/></g>
<line x1="630.75" y1="893.29" x2="1026.05" y2="893.29" stroke="#6495ed" stroke-width="1.85" stroke-dasharray="7.11 7.11"/>
<polyline points="630.75,981.94 640.89,981.94 651.02,919.53 661.16,981.94 671.29,981.94 681.43,981.94 691.57,981.94 701.7,981.94 711.84,981.94 721.97,981.94 732.11,981.94 742.25,981.94 752.38,981.94 762.52,981.94 772.65,981.94 782.79,981.94 792.93,981.94 803.06,981.94 813.2,981.94 823.33,981.94 833.47,981.94 843.61,981.94 853.74,981.94 863.88,981.94 874.01,981.94 884.15,981.94 894.29,981.94 904.42,981.94 914.56,976.8 924.69,981.94 934.83,981.94 944.97,981.94 955.1,981.94 965.24,981.94 975.37,981.94 985.51,945.77 995.65,833.19 1005.78,921.75 1015.92,981.94 1026.05,760.76" fill="none" stroke="#000" stroke-width="1.7" stroke-linejoin="round"/>
<g fill="#000"><circle cx="630.75" cy="981.94" r="4.9"/><circle cx="640.89" cy="981.94" r="4.9"/><circle cx="651.02" cy="919.53" r="4.9"/><circle cx="661.16" cy="981.94" r="4.9"/><circle cx="671.29" cy="981.94" r="4.9"/><circle cx="681.43" cy="981.94" r="4.9"/><circle cx="691.57" cy="981.94" r="4.9"/><circle cx="701.7" cy="981.94" r="4.9"/><circle cx="711.84" cy="981.94" r="4.9"/><circle cx="721.97" cy="981.94" r="4.9"/><circle cx="732.11" cy="981.94" r="4.9"/><circle cx="742.25" cy="981.94" r="4.9"/><circle cx="752.38" cy="981.94" r="4.9"/><circle cx="762.52" cy="981.94" r="4.9"/><circle cx="772.65" cy="981.94" r="4.9"/><circle cx="782.79" cy="981.94" r="4.9"/><circle cx="792.93" cy="981.94" r="4.9"/><circle cx="803.06" cy="981.94" r="4.9"/><circle cx="813.2" cy="981.94" r="4.9"/><circle cx="823.33" cy="981.94" r="4.9"/><circle cx="833.47" cy="981.94" r="4.9"/><circle cx="843.61" cy="981.94" r="4.9"/><circle cx="853.74" cy="981.94" r="4.9"/><circle cx="863.88" cy="981.94" r="4.9"/><circle cx="874.01" cy="981.94" r="4.9"/><circle cx="884.15" cy="981.94" r="4.9"/><circle cx="894.29" cy="981.94" r="4.9"/><circle cx="904.42" cy="981.94" r="4.9"/><circle cx="914.56" cy="976.8" r="4.9"/><circle cx="924.69" cy="981.94" r="4.9"/><circle cx="934.83" cy="981.94" r="4.9"/><circle cx="944.97" cy="981.94" r="4.9"/><circle cx="955.1" cy="981.94" r="4.9"/><circle cx="965.24" cy="981.94" r="4.9"/><circle cx="975.37" cy="981.94" r="4.9"/><circle cx="985.51" cy="945.77" r="4.9"/><circle cx="995.65" cy="833.19" r="4.9"/><circle cx="1005.78" cy="921.75" r="4.9"/><circle cx="1015.92" cy="981.94" r="4.9"/><circle cx="1026.05" cy="760.76" r="4.9"/></g>
<line x1="608.2" y1="749.7" x2="608.2" y2="993" stroke="#000" stroke-width="4.4"/>
<line x1="608.2" y1="993" x2="1048.6" y2="993" stroke="#000" stroke-width="4.4"/>
<path d="M596.8 981.94H608.2M596.8 937.62H608.2M596.8 893.29H608.2M596.8 848.97H608.2M596.8 804.64H608.2M596.8 760.32H608.2M630.75 993V1004.4M732.11 993V1004.4M833.47 993V1004.4M934.83 993V1004.4M1036.19 993V1004.4" stroke="#333" stroke-width="2.6" fill="none"/>
<g class="tl"><text transform="translate(586.5 993.44) scale(1 1.03)" text-anchor="end">0.0</text><text transform="translate(586.5 949.12) scale(1 1.03)" text-anchor="end">0.5</text><text transform="translate(586.5 904.79) scale(1 1.03)" text-anchor="end">1.0</text><text transform="translate(586.5 860.47) scale(1 1.03)" text-anchor="end">1.5</text><text transform="translate(586.5 816.14) scale(1 1.03)" text-anchor="end">2.0</text><text transform="translate(586.5 771.82) scale(1 1.03)" text-anchor="end">2.5</text><text transform="translate(630.75 1037.1) scale(1 1.03)" text-anchor="middle">1980</text><text transform="translate(732.11 1037.1) scale(1 1.03)" text-anchor="middle">1990</text><text transform="translate(833.47 1037.1) scale(1 1.03)" text-anchor="middle">2000</text><text transform="translate(934.83 1037.1) scale(1 1.03)" text-anchor="middle">2010</text><text transform="translate(1036.19 1037.1) scale(1 1.03)" text-anchor="middle">2020</text></g>
</g>
<g>
<g fill="#bebebe"><rect x="1174.86" y="947.49" width="4.75" height="34.45"/><rect x="1184.99" y="946.87" width="4.75" height="35.07"/><rect x="1205.26" y="953.5" width="4.75" height="28.44"/><rect x="1215.4" y="951.72" width="4.75" height="30.22"/><rect x="1225.53" y="948.64" width="4.75" height="33.3"/><rect x="1235.67" y="951.72" width="4.75" height="30.22"/><rect x="1245.81" y="953.5" width="4.75" height="28.44"/><rect x="1255.94" y="940.66" width="4.75" height="41.28"/><rect x="1266.08" y="950.63" width="4.75" height="31.31"/><rect x="1276.21" y="954.64" width="4.75" height="27.3"/><rect x="1286.35" y="955.85" width="4.75" height="26.09"/><rect x="1296.49" y="961.74" width="4.75" height="20.2"/><rect x="1306.62" y="956.84" width="4.75" height="25.1"/><rect x="1316.76" y="957.93" width="4.75" height="24.01"/><rect x="1326.89" y="958.61" width="4.75" height="23.33"/><rect x="1337.03" y="955.74" width="4.75" height="26.2"/><rect x="1357.3" y="944.62" width="4.75" height="37.32"/><rect x="1367.44" y="948.64" width="4.75" height="33.3"/><rect x="1377.57" y="943.95" width="4.75" height="37.99"/><rect x="1387.71" y="954.8" width="4.75" height="27.14"/><rect x="1397.85" y="944.62" width="4.75" height="37.32"/><rect x="1407.98" y="945.41" width="4.75" height="36.53"/><rect x="1428.25" y="946.87" width="4.75" height="35.07"/><rect x="1438.39" y="951.3" width="4.75" height="30.64"/><rect x="1448.53" y="954.8" width="4.75" height="27.14"/><rect x="1468.8" y="944.62" width="4.75" height="37.32"/><rect x="1478.93" y="951.15" width="4.75" height="30.79"/><rect x="1489.07" y="947.49" width="4.75" height="34.45"/></g>
<line x1="1126.55" y1="929.75" x2="1521.85" y2="929.75" stroke="#6495ed" stroke-width="1.85" stroke-dasharray="7.11 7.11"/>
<polyline points="1126.55,981.94 1136.69,981.94 1146.82,981.94 1156.96,981.94 1167.09,981.94 1177.23,976.83 1187.37,761.39 1197.5,981.94 1207.64,828.71 1217.77,976.83 1227.91,973.07 1238.05,959.71 1248.18,967.95 1258.32,973.49 1268.45,948.64 1278.59,946.4 1288.73,952.87 1298.86,952.4 1309,951.3 1319.13,897.55 1329.27,942.43 1339.41,946.19 1349.54,981.94 1359.68,975.26 1369.81,785.18 1379.95,961.95 1390.09,951.3 1400.22,960.86 1410.36,937.53 1420.49,981.94 1430.63,933.98 1440.77,947.49 1450.9,950.63 1461.04,981.94 1471.17,966.39 1481.31,946.19 1491.45,760.76 1501.58,981.94 1511.72,981.94 1521.85,981.94" fill="none" stroke="#000" stroke-width="1.7" stroke-linejoin="round"/>
<g fill="#000"><circle cx="1126.55" cy="981.94" r="4.9"/><circle cx="1136.69" cy="981.94" r="4.9"/><circle cx="1146.82" cy="981.94" r="4.9"/><circle cx="1156.96" cy="981.94" r="4.9"/><circle cx="1167.09" cy="981.94" r="4.9"/><circle cx="1177.23" cy="976.83" r="4.9"/><circle cx="1187.37" cy="761.39" r="4.9"/><circle cx="1197.5" cy="981.94" r="4.9"/><circle cx="1207.64" cy="828.71" r="4.9"/><circle cx="1217.77" cy="976.83" r="4.9"/><circle cx="1227.91" cy="973.07" r="4.9"/><circle cx="1238.05" cy="959.71" r="4.9"/><circle cx="1248.18" cy="967.95" r="4.9"/><circle cx="1258.32" cy="973.49" r="4.9"/><circle cx="1268.45" cy="948.64" r="4.9"/><circle cx="1278.59" cy="946.4" r="4.9"/><circle cx="1288.73" cy="952.87" r="4.9"/><circle cx="1298.86" cy="952.4" r="4.9"/><circle cx="1309" cy="951.3" r="4.9"/><circle cx="1319.13" cy="897.55" r="4.9"/><circle cx="1329.27" cy="942.43" r="4.9"/><circle cx="1339.41" cy="946.19" r="4.9"/><circle cx="1349.54" cy="981.94" r="4.9"/><circle cx="1359.68" cy="975.26" r="4.9"/><circle cx="1369.81" cy="785.18" r="4.9"/><circle cx="1379.95" cy="961.95" r="4.9"/><circle cx="1390.09" cy="951.3" r="4.9"/><circle cx="1400.22" cy="960.86" r="4.9"/><circle cx="1410.36" cy="937.53" r="4.9"/><circle cx="1420.49" cy="981.94" r="4.9"/><circle cx="1430.63" cy="933.98" r="4.9"/><circle cx="1440.77" cy="947.49" r="4.9"/><circle cx="1450.9" cy="950.63" r="4.9"/><circle cx="1461.04" cy="981.94" r="4.9"/><circle cx="1471.17" cy="966.39" r="4.9"/><circle cx="1481.31" cy="946.19" r="4.9"/><circle cx="1491.45" cy="760.76" r="4.9"/><circle cx="1501.58" cy="981.94" r="4.9"/><circle cx="1511.72" cy="981.94" r="4.9"/><circle cx="1521.85" cy="981.94" r="4.9"/></g>
<line x1="1104" y1="749.7" x2="1104" y2="993" stroke="#000" stroke-width="4.4"/>
<line x1="1104" y1="993" x2="1544.4" y2="993" stroke="#000" stroke-width="4.4"/>
<path d="M1092.6 981.94H1104M1092.6 929.75H1104M1092.6 877.56H1104M1092.6 825.37H1104M1092.6 773.18H1104M1126.55 993V1004.4M1227.91 993V1004.4M1329.27 993V1004.4M1430.63 993V1004.4M1531.99 993V1004.4" stroke="#333" stroke-width="2.6" fill="none"/>
<g class="tl"><text transform="translate(1082.3 993.44) scale(1 1.03)" text-anchor="end">0</text><text transform="translate(1082.3 941.25) scale(1 1.03)" text-anchor="end">1</text><text transform="translate(1082.3 889.06) scale(1 1.03)" text-anchor="end">2</text><text transform="translate(1082.3 836.87) scale(1 1.03)" text-anchor="end">3</text><text transform="translate(1082.3 784.68) scale(1 1.03)" text-anchor="end">4</text><text transform="translate(1126.55 1037.1) scale(1 1.03)" text-anchor="middle">1980</text><text transform="translate(1227.91 1037.1) scale(1 1.03)" text-anchor="middle">1990</text><text transform="translate(1329.27 1037.1) scale(1 1.03)" text-anchor="middle">2000</text><text transform="translate(1430.63 1037.1) scale(1 1.03)" text-anchor="middle">2010</text><text transform="translate(1531.99 1037.1) scale(1 1.03)" text-anchor="middle">2020</text></g>
</g>
<g>
<g fill="#bebebe"><rect x="1647.97" y="933.49" width="4.75" height="48.45"/><rect x="1658.11" y="948.59" width="4.75" height="33.35"/><rect x="1668.25" y="948.59" width="4.75" height="33.35"/><rect x="1678.38" y="952.85" width="4.75" height="29.09"/><rect x="1688.52" y="944.64" width="4.75" height="37.3"/><rect x="1698.65" y="950.82" width="4.75" height="31.12"/><rect x="1708.79" y="956.8" width="4.75" height="25.14"/><rect x="1718.93" y="949.71" width="4.75" height="32.23"/><rect x="1729.06" y="949.71" width="4.75" height="32.23"/><rect x="1739.2" y="957.92" width="4.75" height="24.02"/><rect x="1749.33" y="954.67" width="4.75" height="27.27"/><rect x="1759.47" y="951.73" width="4.75" height="30.21"/><rect x="1769.61" y="944.64" width="4.75" height="37.3"/><rect x="1779.74" y="947.48" width="4.75" height="34.46"/><rect x="1789.88" y="957.92" width="4.75" height="24.02"/><rect x="1800.01" y="956.8" width="4.75" height="25.14"/><rect x="1810.15" y="957.92" width="4.75" height="24.02"/><rect x="1820.29" y="960.65" width="4.75" height="21.29"/><rect x="1830.42" y="958.63" width="4.75" height="23.31"/><rect x="1840.56" y="960.65" width="4.75" height="21.29"/><rect x="1850.69" y="958.63" width="4.75" height="23.31"/><rect x="1860.83" y="954.67" width="4.75" height="27.27"/><rect x="1870.97" y="958.63" width="4.75" height="23.31"/><rect x="1881.1" y="955.79" width="4.75" height="26.15"/><rect x="1891.24" y="951.73" width="4.75" height="30.21"/><rect x="1901.38" y="957.92" width="4.75" height="24.02"/><rect x="1911.51" y="958.63" width="4.75" height="23.31"/><rect x="1921.65" y="954.67" width="4.75" height="27.27"/><rect x="1931.78" y="957.92" width="4.75" height="24.02"/><rect x="1941.92" y="956.8" width="4.75" height="25.14"/><rect x="1952.05" y="953.56" width="4.75" height="28.38"/><rect x="1962.19" y="954.67" width="4.75" height="27.27"/><rect x="1972.33" y="950.82" width="4.75" height="31.12"/><rect x="1982.46" y="950.82" width="4.75" height="31.12"/><rect x="1992.6" y="949.71" width="4.75" height="32.23"/><rect x="2002.73" y="949.71" width="4.75" height="32.23"/><rect x="2012.87" y="956.8" width="4.75" height="25.14"/><rect x="2023.01" y="947.48" width="4.75" height="34.46"/><rect x="2033.14" y="949.71" width="4.75" height="32.23"/><rect x="2043.28" y="956.8" width="4.75" height="25.14"/></g>
<line x1="1650.35" y1="880.57" x2="2045.65" y2="880.57" stroke="#6495ed" stroke-width="1.85" stroke-dasharray="7.11 7.11"/>
<polyline points="1650.35,978.59 1660.49,919.8 1670.62,864.66 1680.76,893.14 1690.89,830.3 1701.03,783.67 1711.17,887.97 1721.3,933.49 1731.44,760.76 1741.57,888.68 1751.71,935.72 1761.85,897.6 1771.98,935.11 1782.12,926.9 1792.25,930.85 1802.39,925.78 1812.53,909.06 1822.66,878.45 1832.8,873.58 1842.93,792.08 1853.07,918.38 1863.21,860.3 1873.34,880.27 1883.48,915.14 1893.61,854.02 1903.75,872.47 1913.89,840.94 1924.02,882.5 1934.16,822.49 1944.29,851.79 1954.43,895.37 1964.57,920.92 1974.7,802.93 1984.84,809.21 1994.97,919.09 2005.11,920.92 2015.25,843.58 2025.38,878.04 2035.52,921.73 2045.65,866.89" fill="none" stroke="#000" stroke-width="1.7" stroke-linejoin="round"/>
<g fill="#000"><circle cx="1650.35" cy="978.59" r="4.9"/><circle cx="1660.49" cy="919.8" r="4.9"/><circle cx="1670.62" cy="864.66" r="4.9"/><circle cx="1680.76" cy="893.14" r="4.9"/><circle cx="1690.89" cy="830.3" r="4.9"/><circle cx="1701.03" cy="783.67" r="4.9"/><circle cx="1711.17" cy="887.97" r="4.9"/><circle cx="1721.3" cy="933.49" r="4.9"/><circle cx="1731.44" cy="760.76" r="4.9"/><circle cx="1741.57" cy="888.68" r="4.9"/><circle cx="1751.71" cy="935.72" r="4.9"/><circle cx="1761.85" cy="897.6" r="4.9"/><circle cx="1771.98" cy="935.11" r="4.9"/><circle cx="1782.12" cy="926.9" r="4.9"/><circle cx="1792.25" cy="930.85" r="4.9"/><circle cx="1802.39" cy="925.78" r="4.9"/><circle cx="1812.53" cy="909.06" r="4.9"/><circle cx="1822.66" cy="878.45" r="4.9"/><circle cx="1832.8" cy="873.58" r="4.9"/><circle cx="1842.93" cy="792.08" r="4.9"/><circle cx="1853.07" cy="918.38" r="4.9"/><circle cx="1863.21" cy="860.3" r="4.9"/><circle cx="1873.34" cy="880.27" r="4.9"/><circle cx="1883.48" cy="915.14" r="4.9"/><circle cx="1893.61" cy="854.02" r="4.9"/><circle cx="1903.75" cy="872.47" r="4.9"/><circle cx="1913.89" cy="840.94" r="4.9"/><circle cx="1924.02" cy="882.5" r="4.9"/><circle cx="1934.16" cy="822.49" r="4.9"/><circle cx="1944.29" cy="851.79" r="4.9"/><circle cx="1954.43" cy="895.37" r="4.9"/><circle cx="1964.57" cy="920.92" r="4.9"/><circle cx="1974.7" cy="802.93" r="4.9"/><circle cx="1984.84" cy="809.21" r="4.9"/><circle cx="1994.97" cy="919.09" r="4.9"/><circle cx="2005.11" cy="920.92" r="4.9"/><circle cx="2015.25" cy="843.58" r="4.9"/><circle cx="2025.38" cy="878.04" r="4.9"/><circle cx="2035.52" cy="921.73" r="4.9"/><circle cx="2045.65" cy="866.89" r="4.9"/></g>
<line x1="1627.8" y1="749.7" x2="1627.8" y2="993" stroke="#000" stroke-width="4.4"/>
<line x1="1627.8" y1="993" x2="2068.2" y2="993" stroke="#000" stroke-width="4.4"/>
<path d="M1616.4 981.94H1627.8M1616.4 931.26H1627.8M1616.4 880.57H1627.8M1616.4 829.89H1627.8M1616.4 779.21H1627.8M1650.35 993V1004.4M1751.71 993V1004.4M1853.07 993V1004.4M1954.43 993V1004.4M2055.79 993V1004.4" stroke="#333" stroke-width="2.6" fill="none"/>
<g class="tl"><text transform="translate(1606.1 993.44) scale(1 1.03)" text-anchor="end">0.0</text><text transform="translate(1606.1 942.76) scale(1 1.03)" text-anchor="end">0.5</text><text transform="translate(1606.1 892.07) scale(1 1.03)" text-anchor="end">1.0</text><text transform="translate(1606.1 841.39) scale(1 1.03)" text-anchor="end">1.5</text><text transform="translate(1606.1 790.71) scale(1 1.03)" text-anchor="end">2.0</text><text transform="translate(1650.35 1037.1) scale(1 1.03)" text-anchor="middle">1980</text><text transform="translate(1751.71 1037.1) scale(1 1.03)" text-anchor="middle">1990</text><text transform="translate(1853.07 1037.1) scale(1 1.03)" text-anchor="middle">2000</text><text transform="translate(1954.43 1037.1) scale(1 1.03)" text-anchor="middle">2010</text><text transform="translate(2055.79 1037.1) scale(1 1.03)" text-anchor="middle">2020</text></g>
</g>
<g>
<g fill="#bebebe"><rect x="114.81" y="1301.59" width="4.75" height="34.15"/><rect x="124.95" y="1304.91" width="4.75" height="30.83"/><rect x="135.08" y="1302.59" width="4.75" height="33.15"/><rect x="155.35" y="1303.82" width="4.75" height="31.92"/><rect x="165.49" y="1302.59" width="4.75" height="33.15"/><rect x="175.63" y="1304.91" width="4.75" height="30.83"/><rect x="195.9" y="1319.16" width="4.75" height="16.58"/><rect x="216.17" y="1299.79" width="4.75" height="35.95"/><rect x="226.31" y="1302.68" width="4.75" height="33.06"/><rect x="246.58" y="1309.79" width="4.75" height="25.95"/><rect x="266.85" y="1307.56" width="4.75" height="28.18"/><rect x="276.99" y="1308.7" width="4.75" height="27.04"/><rect x="287.12" y="1313.76" width="4.75" height="21.98"/><rect x="297.26" y="1312.67" width="4.75" height="23.07"/><rect x="307.39" y="1309.79" width="4.75" height="25.95"/><rect x="317.53" y="1309.79" width="4.75" height="25.95"/><rect x="327.67" y="1312.67" width="4.75" height="23.07"/><rect x="337.8" y="1310.88" width="4.75" height="24.86"/><rect x="347.94" y="1305.81" width="4.75" height="29.93"/><rect x="358.07" y="1309.79" width="4.75" height="25.95"/><rect x="368.21" y="1314.66" width="4.75" height="21.08"/><rect x="378.35" y="1312.67" width="4.75" height="23.07"/><rect x="388.48" y="1309.79" width="4.75" height="25.95"/><rect x="398.62" y="1310.88" width="4.75" height="24.86"/><rect x="408.75" y="1303.82" width="4.75" height="31.92"/><rect x="418.89" y="1305.43" width="4.75" height="30.31"/><rect x="429.03" y="1312.67" width="4.75" height="23.07"/><rect x="439.16" y="1307.56" width="4.75" height="28.18"/><rect x="449.3" y="1301.59" width="4.75" height="34.15"/><rect x="459.44" y="1312.67" width="4.75" height="23.07"/><rect x="469.57" y="1308.7" width="4.75" height="27.04"/><rect x="479.71" y="1307.56" width="4.75" height="28.18"/><rect x="499.98" y="1304.91" width="4.75" height="30.83"/></g>
<line x1="107.05" y1="1288.38" x2="502.35" y2="1288.38" stroke="#6495ed" stroke-width="1.85" stroke-dasharray="7.11 7.11"/>
<polyline points="107.05,1335.74 117.19,1277.15 127.32,1179.59 137.46,1301.36 147.59,1335.74 157.73,1317.55 167.87,1302.44 178,1323.76 188.14,1335.74 198.27,1317.55 208.41,1335.74 218.55,1321.53 228.68,1330.44 238.82,1335.27 248.95,1333.75 259.09,1335.27 269.23,1329.77 279.36,1327.97 289.5,1331.29 299.63,1300.93 309.77,1325.75 319.91,1324.18 330.04,1301.36 340.18,1286.06 350.31,1246.13 360.45,1279.85 370.59,1114.56 380.72,1304.24 390.86,1300.27 400.99,1139.66 411.13,1189.53 421.27,1301.59 431.4,1237.7 441.54,1330.86 451.67,1282.51 461.81,1281.37 471.95,1322.67 482.08,1319.31 492.22,1335.74 502.35,1331.95" fill="none" stroke="#000" stroke-width="1.7" stroke-linejoin="round"/>
<g fill="#000"><circle cx="107.05" cy="1335.74" r="4.9"/><circle cx="117.19" cy="1277.15" r="4.9"/><circle cx="127.32" cy="1179.59" r="4.9"/><circle cx="137.46" cy="1301.36" r="4.9"/><circle cx="147.59" cy="1335.74" r="4.9"/><circle cx="157.73" cy="1317.55" r="4.9"/><circle cx="167.87" cy="1302.44" r="4.9"/><circle cx="178" cy="1323.76" r="4.9"/><circle cx="188.14" cy="1335.74" r="4.9"/><circle cx="198.27" cy="1317.55" r="4.9"/><circle cx="208.41" cy="1335.74" r="4.9"/><circle cx="218.55" cy="1321.53" r="4.9"/><circle cx="228.68" cy="1330.44" r="4.9"/><circle cx="238.82" cy="1335.27" r="4.9"/><circle cx="248.95" cy="1333.75" r="4.9"/><circle cx="259.09" cy="1335.27" r="4.9"/><circle cx="269.23" cy="1329.77" r="4.9"/><circle cx="279.36" cy="1327.97" r="4.9"/><circle cx="289.5" cy="1331.29" r="4.9"/><circle cx="299.63" cy="1300.93" r="4.9"/><circle cx="309.77" cy="1325.75" r="4.9"/><circle cx="319.91" cy="1324.18" r="4.9"/><circle cx="330.04" cy="1301.36" r="4.9"/><circle cx="340.18" cy="1286.06" r="4.9"/><circle cx="350.31" cy="1246.13" r="4.9"/><circle cx="360.45" cy="1279.85" r="4.9"/><circle cx="370.59" cy="1114.56" r="4.9"/><circle cx="380.72" cy="1304.24" r="4.9"/><circle cx="390.86" cy="1300.27" r="4.9"/><circle cx="400.99" cy="1139.66" r="4.9"/><circle cx="411.13" cy="1189.53" r="4.9"/><circle cx="421.27" cy="1301.59" r="4.9"/><circle cx="431.4" cy="1237.7" r="4.9"/><circle cx="441.54" cy="1330.86" r="4.9"/><circle cx="451.67" cy="1282.51" r="4.9"/><circle cx="461.81" cy="1281.37" r="4.9"/><circle cx="471.95" cy="1322.67" r="4.9"/><circle cx="482.08" cy="1319.31" r="4.9"/><circle cx="492.22" cy="1335.74" r="4.9"/><circle cx="502.35" cy="1331.95" r="4.9"/></g>
<line x1="84.5" y1="1103.5" x2="84.5" y2="1346.8" stroke="#000" stroke-width="4.4"/>
<line x1="84.5" y1="1346.8" x2="524.9" y2="1346.8" stroke="#000" stroke-width="4.4"/>
<path d="M73.1 1335.74H84.5M73.1 1288.38H84.5M73.1 1241.02H84.5M73.1 1193.65H84.5M73.1 1146.29H84.5M107.05 1346.8V1358.2M208.41 1346.8V1358.2M309.77 1346.8V1358.2M411.13 1346.8V1358.2M512.49 1346.8V1358.2" stroke="#333" stroke-width="2.6" fill="none"/>
<g class="tl"><text transform="translate(62.8 1347.24) scale(1 1.03)" text-anchor="end">0</text><text transform="translate(62.8 1299.88) scale(1 1.03)" text-anchor="end">1</text><text transform="translate(62.8 1252.52) scale(1 1.03)" text-anchor="end">2</text><text transform="translate(62.8 1205.15) scale(1 1.03)" text-anchor="end">3</text><text transform="translate(62.8 1157.79) scale(1 1.03)" text-anchor="end">4</text><text transform="translate(107.05 1390.9) scale(1 1.03)" text-anchor="middle">1980</text><text transform="translate(208.41 1390.9) scale(1 1.03)" text-anchor="middle">1990</text><text transform="translate(309.77 1390.9) scale(1 1.03)" text-anchor="middle">2000</text><text transform="translate(411.13 1390.9) scale(1 1.03)" text-anchor="middle">2010</text><text transform="translate(512.49 1390.9) scale(1 1.03)" text-anchor="middle">2020</text></g>
</g>
<g>
<g fill="#bebebe"><rect x="679.05" y="1243.87" width="4.75" height="91.87"/><rect x="942.59" y="1246.99" width="4.75" height="88.75"/><rect x="973" y="1240.98" width="4.75" height="94.76"/><rect x="983.13" y="1282.12" width="4.75" height="53.62"/><rect x="993.27" y="1270.56" width="4.75" height="65.18"/><rect x="1003.41" y="1282.12" width="4.75" height="53.62"/><rect x="1023.68" y="1279.81" width="4.75" height="55.93"/></g>
<line x1="630.75" y1="1220.18" x2="1026.05" y2="1220.18" stroke="#6495ed" stroke-width="1.85" stroke-dasharray="7.11 7.11"/>
<polyline points="630.75,1335.74 640.89,1335.74 651.02,1335.74 661.16,1335.74 671.29,1335.74 681.43,1302.46 691.57,1335.74 701.7,1335.74 711.84,1335.74 721.97,1335.74 732.11,1335.74 742.25,1335.74 752.38,1335.74 762.52,1335.74 772.65,1335.74 782.79,1335.74 792.93,1335.74 803.06,1335.74 813.2,1335.74 823.33,1335.74 833.47,1335.74 843.61,1335.74 853.74,1335.74 863.88,1335.74 874.01,1335.74 884.15,1335.74 894.29,1335.74 904.42,1335.74 914.56,1335.74 924.69,1335.74 934.83,1335.74 944.97,1326.38 955.1,1335.74 965.24,1335.74 975.37,1147.38 985.51,1243.87 995.65,1136.29 1005.78,1114.56 1015.92,1335.74 1026.05,1266.98" fill="none" stroke="#000" stroke-width="1.7" stroke-linejoin="round"/>
<g fill="#000"><circle cx="630.75" cy="1335.74" r="4.9"/><circle cx="640.89" cy="1335.74" r="4.9"/><circle cx="651.02" cy="1335.74" r="4.9"/><circle cx="661.16" cy="1335.74" r="4.9"/><circle cx="671.29" cy="1335.74" r="4.9"/><circle cx="681.43" cy="1302.46" r="4.9"/><circle cx="691.57" cy="1335.74" r="4.9"/><circle cx="701.7" cy="1335.74" r="4.9"/><circle cx="711.84" cy="1335.74" r="4.9"/><circle cx="721.97" cy="1335.74" r="4.9"/><circle cx="732.11" cy="1335.74" r="4.9"/><circle cx="742.25" cy="1335.74" r="4.9"/><circle cx="752.38" cy="1335.74" r="4.9"/><circle cx="762.52" cy="1335.74" r="4.9"/><circle cx="772.65" cy="1335.74" r="4.9"/><circle cx="782.79" cy="1335.74" r="4.9"/><circle cx="792.93" cy="1335.74" r="4.9"/><circle cx="803.06" cy="1335.74" r="4.9"/><circle cx="813.2" cy="1335.74" r="4.9"/><circle cx="823.33" cy="1335.74" r="4.9"/><circle cx="833.47" cy="1335.74" r="4.9"/><circle cx="843.61" cy="1335.74" r="4.9"/><circle cx="853.74" cy="1335.74" r="4.9"/><circle cx="863.88" cy="1335.74" r="4.9"/><circle cx="874.01" cy="1335.74" r="4.9"/><circle cx="884.15" cy="1335.74" r="4.9"/><circle cx="894.29" cy="1335.74" r="4.9"/><circle cx="904.42" cy="1335.74" r="4.9"/><circle cx="914.56" cy="1335.74" r="4.9"/><circle cx="924.69" cy="1335.74" r="4.9"/><circle cx="934.83" cy="1335.74" r="4.9"/><circle cx="944.97" cy="1326.38" r="4.9"/><circle cx="955.1" cy="1335.74" r="4.9"/><circle cx="965.24" cy="1335.74" r="4.9"/><circle cx="975.37" cy="1147.38" r="4.9"/><circle cx="985.51" cy="1243.87" r="4.9"/><circle cx="995.65" cy="1136.29" r="4.9"/><circle cx="1005.78" cy="1114.56" r="4.9"/><circle cx="1015.92" cy="1335.74" r="4.9"/><circle cx="1026.05" cy="1266.98" r="4.9"/></g>
<line x1="608.2" y1="1103.5" x2="608.2" y2="1346.8" stroke="#000" stroke-width="4.4"/>
<line x1="608.2" y1="1346.8" x2="1048.6" y2="1346.8" stroke="#000" stroke-width="4.4"/>
<path d="M596.8 1335.74H608.2M596.8 1277.96H608.2M596.8 1220.18H608.2M596.8 1162.4H608.2M596.8 1104.62H608.2M630.75 1346.8V1358.2M732.11 1346.8V1358.2M833.47 1346.8V1358.2M934.83 1346.8V1358.2M1036.19 1346.8V1358.2" stroke="#333" stroke-width="2.6" fill="none"/>
<g class="tl"><text transform="translate(586.5 1347.24) scale(1 1.03)" text-anchor="end">0.0</text><text transform="translate(586.5 1289.46) scale(1 1.03)" text-anchor="end">0.5</text><text transform="translate(586.5 1231.68) scale(1 1.03)" text-anchor="end">1.0</text><text transform="translate(586.5 1173.9) scale(1 1.03)" text-anchor="end">1.5</text><text transform="translate(586.5 1116.12) scale(1 1.03)" text-anchor="end">2.0</text><text transform="translate(630.75 1390.9) scale(1 1.03)" text-anchor="middle">1980</text><text transform="translate(732.11 1390.9) scale(1 1.03)" text-anchor="middle">1990</text><text transform="translate(833.47 1390.9) scale(1 1.03)" text-anchor="middle">2000</text><text transform="translate(934.83 1390.9) scale(1 1.03)" text-anchor="middle">2010</text><text transform="translate(1036.19 1390.9) scale(1 1.03)" text-anchor="middle">2020</text></g>
</g>
<g>
<g fill="#bebebe"><rect x="1144.45" y="1319.08" width="4.75" height="16.66"/><rect x="1174.86" y="1321.93" width="4.75" height="13.81"/><rect x="1184.99" y="1319.08" width="4.75" height="16.66"/><rect x="1195.13" y="1321.16" width="4.75" height="14.58"/><rect x="1205.26" y="1325.33" width="4.75" height="10.41"/><rect x="1215.4" y="1321.16" width="4.75" height="14.58"/><rect x="1225.53" y="1321.16" width="4.75" height="14.58"/><rect x="1235.67" y="1322.41" width="4.75" height="13.33"/><rect x="1245.81" y="1324.08" width="4.75" height="11.66"/><rect x="1255.94" y="1324.08" width="4.75" height="11.66"/><rect x="1266.08" y="1326.37" width="4.75" height="9.37"/><rect x="1276.21" y="1321.99" width="4.75" height="13.75"/><rect x="1286.35" y="1321.16" width="4.75" height="14.58"/><rect x="1296.49" y="1329.49" width="4.75" height="6.25"/><rect x="1306.62" y="1329.49" width="4.75" height="6.25"/><rect x="1316.76" y="1329.49" width="4.75" height="6.25"/><rect x="1326.89" y="1327.41" width="4.75" height="8.33"/><rect x="1337.03" y="1321.16" width="4.75" height="14.58"/><rect x="1347.17" y="1325.12" width="4.75" height="10.62"/><rect x="1357.3" y="1327.41" width="4.75" height="8.33"/><rect x="1367.44" y="1319.08" width="4.75" height="16.66"/><rect x="1377.57" y="1321.16" width="4.75" height="14.58"/><rect x="1387.71" y="1331.57" width="4.75" height="4.17"/><rect x="1397.85" y="1333.66" width="4.75" height="2.08"/><rect x="1407.98" y="1324.08" width="4.75" height="11.66"/><rect x="1418.12" y="1321.16" width="4.75" height="14.58"/><rect x="1428.25" y="1320.12" width="4.75" height="15.62"/><rect x="1438.39" y="1328.45" width="4.75" height="7.29"/><rect x="1448.53" y="1325.12" width="4.75" height="10.62"/><rect x="1458.66" y="1331.57" width="4.75" height="4.17"/><rect x="1468.8" y="1322.2" width="4.75" height="13.54"/><rect x="1478.93" y="1319.08" width="4.75" height="16.66"/><rect x="1489.07" y="1319.08" width="4.75" height="16.66"/><rect x="1499.21" y="1324.08" width="4.75" height="11.66"/></g>
<line x1="1126.55" y1="1314.91" x2="1521.85" y2="1314.91" stroke="#6495ed" stroke-width="1.85" stroke-dasharray="7.11 7.11"/>
<polyline points="1126.55,1335.74 1136.69,1335.74 1146.82,1289.17 1156.96,1335.74 1167.09,1335.74 1177.23,1335.12 1187.37,1283.88 1197.5,1331.89 1207.64,1321.93 1217.77,1328.24 1227.91,1309.08 1238.05,1328.24 1248.18,1314.5 1258.32,1316.16 1268.45,1328.03 1278.59,1317.2 1288.73,1331.37 1298.86,1328.66 1309,1330.33 1319.13,1325.53 1329.27,1322.41 1339.41,1315.85 1349.54,1317 1359.68,1323.04 1369.81,1309.08 1379.95,1331.16 1390.09,1327.2 1400.22,1329.28 1410.36,1114.56 1420.49,1334.07 1430.63,1329.8 1440.77,1324.08 1450.9,1295.34 1461.04,1335.53 1471.17,1328.76 1481.31,1333.45 1491.45,1328.24 1501.58,1301.79 1511.72,1335.53 1521.85,1335.53" fill="none" stroke="#000" stroke-width="1.7" stroke-linejoin="round"/>
<g fill="#000"><circle cx="1126.55" cy="1335.74" r="4.9"/><circle cx="1136.69" cy="1335.74" r="4.9"/><circle cx="1146.82" cy="1289.17" r="4.9"/><circle cx="1156.96" cy="1335.74" r="4.9"/><circle cx="1167.09" cy="1335.74" r="4.9"/><circle cx="1177.23" cy="1335.12" r="4.9"/><circle cx="1187.37" cy="1283.88" r="4.9"/><circle cx="1197.5" cy="1331.89" r="4.9"/><circle cx="1207.64" cy="1321.93" r="4.9"/><circle cx="1217.77" cy="1328.24" r="4.9"/><circle cx="1227.91" cy="1309.08" r="4.9"/><circle cx="1238.05" cy="1328.24" r="4.9"/><circle cx="1248.18" cy="1314.5" r="4.9"/><circle cx="1258.32" cy="1316.16" r="4.9"/><circle cx="1268.45" cy="1328.03" r="4.9"/><circle cx="1278.59" cy="1317.2" r="4.9"/><circle cx="1288.73" cy="1331.37" r="4.9"/><circle cx="1298.86" cy="1328.66" r="4.9"/><circle cx="1309" cy="1330.33" r="4.9"/><circle cx="1319.13" cy="1325.53" r="4.9"/><circle cx="1329.27" cy="1322.41" r="4.9"/><circle cx="1339.41" cy="1315.85" r="4.9"/><circle cx="1349.54" cy="1317" r="4.9"/><circle cx="1359.68" cy="1323.04" r="4.9"/><circle cx="1369.81" cy="1309.08" r="4.9"/><circle cx="1379.95" cy="1331.16" r="4.9"/><circle cx="1390.09" cy="1327.2" r="4.9"/><circle cx="1400.22" cy="1329.28" r="4.9"/><circle cx="1410.36" cy="1114.56" r="4.9"/><circle cx="1420.49" cy="1334.07" r="4.9"/><circle cx="1430.63" cy="1329.8" r="4.9"/><circle cx="1440.77" cy="1324.08" r="4.9"/><circle cx="1450.9" cy="1295.34" r="4.9"/><circle cx="1461.04" cy="1335.53" r="4.9"/><circle cx="1471.17" cy="1328.76" r="4.9"/><circle cx="1481.31" cy="1333.45" r="4.9"/><circle cx="1491.45" cy="1328.24" r="4.9"/><circle cx="1501.58" cy="1301.79" r="4.9"/><circle cx="1511.72" cy="1335.53" r="4.9"/><circle cx="1521.85" cy="1335.53" r="4.9"/></g>
<line x1="1104" y1="1103.5" x2="1104" y2="1346.8" stroke="#000" stroke-width="4.4"/>
<line x1="1104" y1="1346.8" x2="1544.4" y2="1346.8" stroke="#000" stroke-width="4.4"/>
<path d="M1092.6 1335.74H1104M1092.6 1273.26H1104M1092.6 1210.78H1104M1092.6 1148.3H1104M1126.55 1346.8V1358.2M1227.91 1346.8V1358.2M1329.27 1346.8V1358.2M1430.63 1346.8V1358.2M1531.99 1346.8V1358.2" stroke="#333" stroke-width="2.6" fill="none"/>
<g class="tl"><text transform="translate(1082.3 1347.24) scale(1 1.03)" text-anchor="end">0</text><text transform="translate(1082.3 1284.76) scale(1 1.03)" text-anchor="end">3</text><text transform="translate(1082.3 1222.28) scale(1 1.03)" text-anchor="end">6</text><text transform="translate(1082.3 1159.8) scale(1 1.03)" text-anchor="end">9</text><text transform="translate(1126.55 1390.9) scale(1 1.03)" text-anchor="middle">1980</text><text transform="translate(1227.91 1390.9) scale(1 1.03)" text-anchor="middle">1990</text><text transform="translate(1329.27 1390.9) scale(1 1.03)" text-anchor="middle">2000</text><text transform="translate(1430.63 1390.9) scale(1 1.03)" text-anchor="middle">2010</text><text transform="translate(1531.99 1390.9) scale(1 1.03)" text-anchor="middle">2020</text></g>
</g>
<g>
<g fill="#bebebe"><rect x="1647.97" y="1312.65" width="4.75" height="23.09"/><rect x="1658.11" y="1314.65" width="4.75" height="21.09"/><rect x="1668.25" y="1314.65" width="4.75" height="21.09"/><rect x="1678.38" y="1314.65" width="4.75" height="21.09"/><rect x="1688.52" y="1312.65" width="4.75" height="23.09"/><rect x="1698.65" y="1311.56" width="4.75" height="24.18"/><rect x="1708.79" y="1314.65" width="4.75" height="21.09"/><rect x="1718.93" y="1313.3" width="4.75" height="22.44"/><rect x="1729.06" y="1315.8" width="4.75" height="19.94"/><rect x="1739.2" y="1318.64" width="4.75" height="17.1"/><rect x="1749.33" y="1313.8" width="4.75" height="21.94"/><rect x="1759.47" y="1315.8" width="4.75" height="19.94"/><rect x="1769.61" y="1316.89" width="4.75" height="18.85"/><rect x="1779.74" y="1313.8" width="4.75" height="21.94"/><rect x="1789.88" y="1320.78" width="4.75" height="14.96"/><rect x="1800.01" y="1309.81" width="4.75" height="25.93"/><rect x="1810.15" y="1323.27" width="4.75" height="12.47"/><rect x="1820.29" y="1320.88" width="4.75" height="14.86"/><rect x="1830.42" y="1322.63" width="4.75" height="13.11"/><rect x="1840.56" y="1322.63" width="4.75" height="13.11"/><rect x="1850.69" y="1325.77" width="4.75" height="9.97"/><rect x="1860.83" y="1320.78" width="4.75" height="14.96"/><rect x="1870.97" y="1321.53" width="4.75" height="14.21"/><rect x="1881.1" y="1318.64" width="4.75" height="17.1"/><rect x="1891.24" y="1319.78" width="4.75" height="15.96"/><rect x="1901.38" y="1321.53" width="4.75" height="14.21"/><rect x="1911.51" y="1322.63" width="4.75" height="13.11"/><rect x="1921.65" y="1320.88" width="4.75" height="14.86"/><rect x="1931.78" y="1321.53" width="4.75" height="14.21"/><rect x="1941.92" y="1317.79" width="4.75" height="17.95"/><rect x="1952.05" y="1313.8" width="4.75" height="21.94"/><rect x="1962.19" y="1318.29" width="4.75" height="17.45"/><rect x="1972.33" y="1317.79" width="4.75" height="17.95"/><rect x="1982.46" y="1320.78" width="4.75" height="14.96"/><rect x="1992.6" y="1312.65" width="4.75" height="23.09"/><rect x="2002.73" y="1314.65" width="4.75" height="21.09"/><rect x="2012.87" y="1317.79" width="4.75" height="17.95"/><rect x="2023.01" y="1318.29" width="4.75" height="17.45"/><rect x="2033.14" y="1310.81" width="4.75" height="24.93"/><rect x="2043.28" y="1318.79" width="4.75" height="16.95"/></g>
<line x1="1650.35" y1="1285.88" x2="2045.65" y2="1285.88" stroke="#6495ed" stroke-width="1.85" stroke-dasharray="7.11 7.11"/>
<polyline points="1650.35,1303.13 1660.49,1252.77 1670.62,1225.5 1680.76,1244.79 1690.89,1227.69 1701.03,1114.56 1711.17,1249.88 1721.3,1310.21 1731.44,1296.05 1741.57,1307.57 1751.71,1278.3 1761.85,1273.86 1771.98,1238.81 1782.12,1293.61 1792.25,1321.53 1802.39,1331.95 1812.53,1320.88 1822.66,1314.2 1832.8,1286.93 1842.93,1278.05 1853.07,1325.77 1863.21,1318.64 1873.34,1300.24 1883.48,1308.67 1893.61,1283.59 1903.75,1305.77 1913.89,1271.62 1924.02,1292.01 1934.16,1272.07 1944.29,1235.92 1954.43,1300.89 1964.57,1320.23 1974.7,1248.14 1984.84,1321.98 1994.97,1320.88 2005.11,1283.59 2015.25,1305.33 2025.38,1318.64 2035.52,1308.67 2045.65,1314.2" fill="none" stroke="#000" stroke-width="1.7" stroke-linejoin="round"/>
<g fill="#000"><circle cx="1650.35" cy="1303.13" r="4.9"/><circle cx="1660.49" cy="1252.77" r="4.9"/><circle cx="1670.62" cy="1225.5" r="4.9"/><circle cx="1680.76" cy="1244.79" r="4.9"/><circle cx="1690.89" cy="1227.69" r="4.9"/><circle cx="1701.03" cy="1114.56" r="4.9"/><circle cx="1711.17" cy="1249.88" r="4.9"/><circle cx="1721.3" cy="1310.21" r="4.9"/><circle cx="1731.44" cy="1296.05" r="4.9"/><circle cx="1741.57" cy="1307.57" r="4.9"/><circle cx="1751.71" cy="1278.3" r="4.9"/><circle cx="1761.85" cy="1273.86" r="4.9"/><circle cx="1771.98" cy="1238.81" r="4.9"/><circle cx="1782.12" cy="1293.61" r="4.9"/><circle cx="1792.25" cy="1321.53" r="4.9"/><circle cx="1802.39" cy="1331.95" r="4.9"/><circle cx="1812.53" cy="1320.88" r="4.9"/><circle cx="1822.66" cy="1314.2" r="4.9"/><circle cx="1832.8" cy="1286.93" r="4.9"/><circle cx="1842.93" cy="1278.05" r="4.9"/><circle cx="1853.07" cy="1325.77" r="4.9"/><circle cx="1863.21" cy="1318.64" r="4.9"/><circle cx="1873.34" cy="1300.24" r="4.9"/><circle cx="1883.48" cy="1308.67" r="4.9"/><circle cx="1893.61" cy="1283.59" r="4.9"/><circle cx="1903.75" cy="1305.77" r="4.9"/><circle cx="1913.89" cy="1271.62" r="4.9"/><circle cx="1924.02" cy="1292.01" r="4.9"/><circle cx="1934.16" cy="1272.07" r="4.9"/><circle cx="1944.29" cy="1235.92" r="4.9"/><circle cx="1954.43" cy="1300.89" r="4.9"/><circle cx="1964.57" cy="1320.23" r="4.9"/><circle cx="1974.7" cy="1248.14" r="4.9"/><circle cx="1984.84" cy="1321.98" r="4.9"/><circle cx="1994.97" cy="1320.88" r="4.9"/><circle cx="2005.11" cy="1283.59" r="4.9"/><circle cx="2015.25" cy="1305.33" r="4.9"/><circle cx="2025.38" cy="1318.64" r="4.9"/><circle cx="2035.52" cy="1308.67" r="4.9"/><circle cx="2045.65" cy="1314.2" r="4.9"/></g>
<line x1="1627.8" y1="1103.5" x2="1627.8" y2="1346.8" stroke="#000" stroke-width="4.4"/>
<line x1="1627.8" y1="1346.8" x2="2068.2" y2="1346.8" stroke="#000" stroke-width="4.4"/>
<path d="M1616.4 1335.74H1627.8M1616.4 1285.88H1627.8M1616.4 1236.02H1627.8M1616.4 1186.16H1627.8M1616.4 1136.3H1627.8M1650.35 1346.8V1358.2M1751.71 1346.8V1358.2M1853.07 1346.8V1358.2M1954.43 1346.8V1358.2M2055.79 1346.8V1358.2" stroke="#333" stroke-width="2.6" fill="none"/>
<g class="tl"><text transform="translate(1606.1 1347.24) scale(1 1.03)" text-anchor="end">0</text><text transform="translate(1606.1 1297.38) scale(1 1.03)" text-anchor="end">1</text><text transform="translate(1606.1 1247.52) scale(1 1.03)" text-anchor="end">2</text><text transform="translate(1606.1 1197.66) scale(1 1.03)" text-anchor="end">3</text><text transform="translate(1606.1 1147.8) scale(1 1.03)" text-anchor="end">4</text><text transform="translate(1650.35 1390.9) scale(1 1.03)" text-anchor="middle">1980</text><text transform="translate(1751.71 1390.9) scale(1 1.03)" text-anchor="middle">1990</text><text transform="translate(1853.07 1390.9) scale(1 1.03)" text-anchor="middle">2000</text><text transform="translate(1954.43 1390.9) scale(1 1.03)" text-anchor="middle">2010</text><text transform="translate(2055.79 1390.9) scale(1 1.03)" text-anchor="middle">2020</text></g>
</g>
</svg>
</body></html>
